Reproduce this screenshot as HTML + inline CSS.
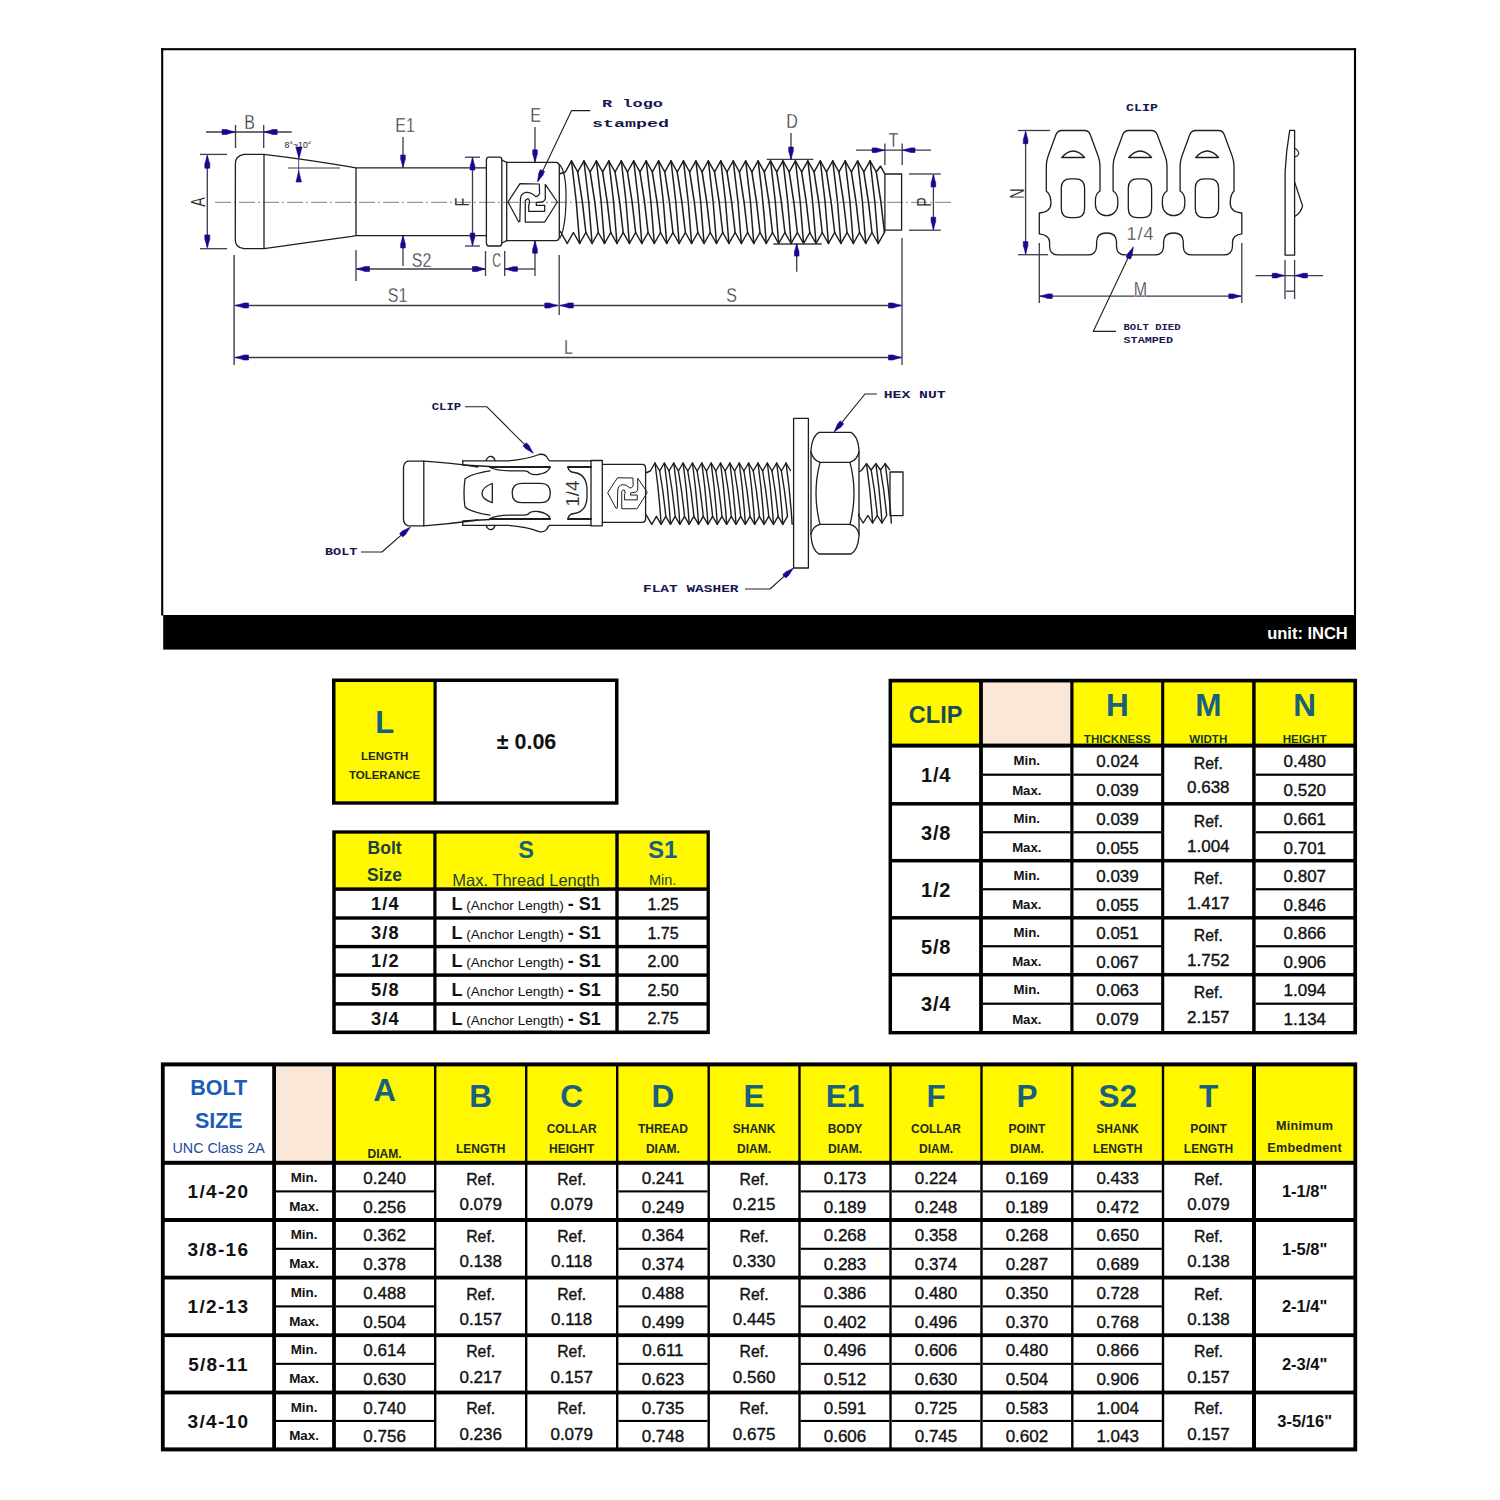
<!DOCTYPE html>
<html><head><meta charset="utf-8"><title>Anchor bolt spec</title>
<style>
html,body{margin:0;padding:0;background:#fff;width:1500px;height:1500px;overflow:hidden}
svg{display:block;font-family:"Liberation Sans",sans-serif}
</style></head><body>
<svg width="1500" height="1500" viewBox="0 0 1500 1500">
<rect x="0" y="0" width="1500" height="1500" fill="#fff"/>
<rect x="161.15" y="48.20" width="2.10" height="567.30" fill="#000"/>
<rect x="161.20" y="48.15" width="1194.90" height="2.10" fill="#000"/>
<rect x="1353.95" y="48.20" width="2.10" height="567.30" fill="#000"/>
<rect x="163.20" y="615.00" width="1192.80" height="34.60" fill="#000"/>
<text x="1347.80" y="638.60" font-family="Liberation Sans" font-size="16.5" font-weight="bold" fill="#fff" text-anchor="end">unit: INCH</text>
<line x1="215.00" y1="202.30" x2="952.00" y2="202.30" stroke="#6b5b5b" stroke-width="0.8" stroke-dasharray="16 3 2 3"/>
<path d="M244,154.4 L264,154.4 Q310,160 352,167.2 Q354.5,167.8 356,167.8 L486.4,167.8" fill="none" stroke="#1e1e1e" stroke-width="1.3" stroke-linejoin="round" stroke-linecap="round"/>
<path d="M244,248.7 L264,248.7 Q310,242 352,236.3 Q354.5,235.7 356,235.7 L486.4,235.7" fill="none" stroke="#1e1e1e" stroke-width="1.3" stroke-linejoin="round" stroke-linecap="round"/>
<path d="M244,154.4 Q239.5,155 237,158 Q235.5,160 235.4,163.5 L235.3,240 Q235.5,243.5 237,245.5 Q239.5,248.2 244,248.7" fill="none" stroke="#1e1e1e" stroke-width="1.3" stroke-linejoin="round" stroke-linecap="round"/>
<line x1="264.00" y1="154.40" x2="264.00" y2="248.70" stroke="#1e1e1e" stroke-width="1.3"/>
<line x1="356.00" y1="167.80" x2="356.00" y2="235.70" stroke="#1e1e1e" stroke-width="1.3"/>
<path d="M489,157.2 L499.5,157.2 Q501.8,157.2 501.8,160 L501.8,243 Q501.8,246 499.5,246 L489,246 Q486.4,246 486.4,243 L486.4,160 Q486.4,157.2 489,157.2 Z" fill="none" stroke="#1e1e1e" stroke-width="1.3" stroke-linejoin="round" stroke-linecap="round"/>
<path d="M501.8,160 L506.7,162.3 M501.8,243 L506.7,240.7" fill="none" stroke="#1e1e1e" stroke-width="1.3" stroke-linejoin="round" stroke-linecap="round"/>
<path d="M506.7,162.3 L555.5,162.3 Q559.3,162.3 559.3,166.5 L559.3,236.5 Q559.3,240.7 555.5,240.7 L506.7,240.7 Z" fill="none" stroke="#1e1e1e" stroke-width="1.3" stroke-linejoin="round" stroke-linecap="round"/>
<path d="M508.00,202.00 L520.00,183.70 L539.30,184.00 L539.60,193.50 Q538.00,196.80 535.80,196.60 Q531.00,191.80 526.00,192.30 Q520.60,193.50 520.40,199.00 L519.80,221.50 L518.60,221.80 Z" fill="none" stroke="#1e1e1e" stroke-width="1.25" stroke-linejoin="round" stroke-linecap="round"/><path d="M525.30,222.00 L525.30,200.60 Q526.50,198.60 528.20,198.80 Q529.80,199.50 529.40,203.50 L528.70,205.00 L528.70,211.30 L544.70,211.30 L544.70,205.30 L536.30,205.30 L536.30,202.70 L543.30,201.60 L545.30,199.30 L545.30,184.30 L557.30,202.00 L544.70,222.00 Z" fill="none" stroke="#1e1e1e" stroke-width="1.25" stroke-linejoin="round" stroke-linecap="round"/>
<path d="M559.30,174.00 L565.28,172.00 L571.50,160.80 L577.72,172.00 L583.94,160.80 L590.16,172.00 L596.38,160.80 L602.60,172.00 L608.82,160.80 L615.04,172.00 L621.26,160.80 L627.48,172.00 L633.70,160.80 L639.92,172.00 L646.14,160.80 L652.36,172.00 L658.58,160.80 L664.80,172.00 L671.02,160.80 L677.24,172.00 L683.46,160.80 L689.68,172.00 L695.90,160.80 L702.12,172.00 L708.34,160.80 L714.56,172.00 L720.78,160.80 L727.00,172.00 L733.22,160.80 L739.44,172.00 L745.66,160.80 L751.88,172.00 L758.10,160.80 L764.32,172.00 L770.54,160.80 L776.76,172.00 L782.98,160.80 L789.20,172.00 L795.42,160.80 L801.64,172.00 L807.86,160.80 L814.08,172.00 L820.30,160.80 L826.52,172.00 L832.74,160.80 L838.96,172.00 L845.18,160.80 L851.40,172.00 L857.62,160.80 L863.84,172.00 L870.06,160.80 L876.28,172.00 L880.50,166.20 L884.90,174.00" fill="none" stroke="#1e1e1e" stroke-width="1.5" stroke-linejoin="round"/><path d="M559.30,230.50 L560.98,232.50 L567.20,243.50 L573.42,232.50 L579.64,243.50 L585.86,232.50 L592.08,243.50 L598.30,232.50 L604.52,243.50 L610.74,232.50 L616.96,243.50 L623.18,232.50 L629.40,243.50 L635.62,232.50 L641.84,243.50 L648.06,232.50 L654.28,243.50 L660.50,232.50 L666.72,243.50 L672.94,232.50 L679.16,243.50 L685.38,232.50 L691.60,243.50 L697.82,232.50 L704.04,243.50 L710.26,232.50 L716.48,243.50 L722.70,232.50 L728.92,243.50 L735.14,232.50 L741.36,243.50 L747.58,232.50 L753.80,243.50 L760.02,232.50 L766.24,243.50 L772.46,232.50 L778.68,243.50 L784.90,232.50 L791.12,243.50 L797.34,232.50 L803.56,243.50 L809.78,232.50 L816.00,243.50 L822.22,232.50 L828.44,243.50 L834.66,232.50 L840.88,243.50 L847.10,232.50 L853.32,243.50 L859.54,232.50 L865.76,243.50 L871.98,232.50 L878.20,243.50 L884.42,232.50 L884.90,230.20" fill="none" stroke="#1e1e1e" stroke-width="1.5" stroke-linejoin="round"/><path d="M571.50,160.80 Q577.07,202.15 579.64,243.50 M577.72,172.00 Q582.99,202.25 585.86,232.50 M583.94,160.80 Q589.51,202.15 592.08,243.50 M590.16,172.00 Q595.43,202.25 598.30,232.50 M596.38,160.80 Q601.95,202.15 604.52,243.50 M602.60,172.00 Q607.87,202.25 610.74,232.50 M608.82,160.80 Q614.39,202.15 616.96,243.50 M615.04,172.00 Q620.31,202.25 623.18,232.50 M621.26,160.80 Q626.83,202.15 629.40,243.50 M627.48,172.00 Q632.75,202.25 635.62,232.50 M633.70,160.80 Q639.27,202.15 641.84,243.50 M639.92,172.00 Q645.19,202.25 648.06,232.50 M646.14,160.80 Q651.71,202.15 654.28,243.50 M652.36,172.00 Q657.63,202.25 660.50,232.50 M658.58,160.80 Q664.15,202.15 666.72,243.50 M664.80,172.00 Q670.07,202.25 672.94,232.50 M671.02,160.80 Q676.59,202.15 679.16,243.50 M677.24,172.00 Q682.51,202.25 685.38,232.50 M683.46,160.80 Q689.03,202.15 691.60,243.50 M689.68,172.00 Q694.95,202.25 697.82,232.50 M695.90,160.80 Q701.47,202.15 704.04,243.50 M702.12,172.00 Q707.39,202.25 710.26,232.50 M708.34,160.80 Q713.91,202.15 716.48,243.50 M714.56,172.00 Q719.83,202.25 722.70,232.50 M720.78,160.80 Q726.35,202.15 728.92,243.50 M727.00,172.00 Q732.27,202.25 735.14,232.50 M733.22,160.80 Q738.79,202.15 741.36,243.50 M739.44,172.00 Q744.71,202.25 747.58,232.50 M745.66,160.80 Q751.23,202.15 753.80,243.50 M751.88,172.00 Q757.15,202.25 760.02,232.50 M758.10,160.80 Q763.67,202.15 766.24,243.50 M764.32,172.00 Q769.59,202.25 772.46,232.50 M770.54,160.80 Q776.11,202.15 778.68,243.50 M776.76,172.00 Q782.03,202.25 784.90,232.50 M782.98,160.80 Q788.55,202.15 791.12,243.50 M789.20,172.00 Q794.47,202.25 797.34,232.50 M795.42,160.80 Q800.99,202.15 803.56,243.50 M801.64,172.00 Q806.91,202.25 809.78,232.50 M807.86,160.80 Q813.43,202.15 816.00,243.50 M814.08,172.00 Q819.35,202.25 822.22,232.50 M820.30,160.80 Q825.87,202.15 828.44,243.50 M826.52,172.00 Q831.79,202.25 834.66,232.50 M832.74,160.80 Q838.31,202.15 840.88,243.50 M838.96,172.00 Q844.23,202.25 847.10,232.50 M845.18,160.80 Q850.75,202.15 853.32,243.50 M851.40,172.00 Q856.67,202.25 859.54,232.50 M857.62,160.80 Q863.19,202.15 865.76,243.50 M863.84,172.00 Q869.11,202.25 871.98,232.50 M870.06,160.80 Q875.63,202.15 878.20,243.50 M876.28,172.00 Q881.55,202.25 884.42,232.50" fill="none" stroke="#1e1e1e" stroke-width="1.5" stroke-linejoin="round" stroke-linecap="round"/>
<path d="M559.5,164.5 Q566.5,172 566,200 Q565.5,228 560,238" fill="none" stroke="#1e1e1e" stroke-width="1.2" stroke-linejoin="round" stroke-linecap="round"/>
<path d="M884.9,174 L901.6,174 L901.6,230.2 L884.9,230.2 Z" fill="none" stroke="#1e1e1e" stroke-width="1.3" stroke-linejoin="round" stroke-linecap="round"/>
<line x1="200.00" y1="154.40" x2="227.00" y2="154.40" stroke="#3a3b4c" stroke-width="1.3"/>
<line x1="200.00" y1="248.70" x2="227.00" y2="248.70" stroke="#3a3b4c" stroke-width="1.3"/>
<line x1="207.30" y1="156.00" x2="207.30" y2="247.00" stroke="#3a3b4c" stroke-width="1.3"/>
<path d="M207.30,155.20 L209.10,161.70 L209.80,163.52 L209.80,168.20 L204.80,168.20 L204.80,163.52 L205.50,161.70 Z" fill="#160a8c" stroke="#160a8c" stroke-width="0.6"/>
<path d="M207.30,247.90 L205.50,241.40 L204.80,239.58 L204.80,234.90 L209.80,234.90 L209.80,239.58 L209.10,241.40 Z" fill="#160a8c" stroke="#160a8c" stroke-width="0.6"/>
<text x="0" y="0" font-family="Liberation Sans" font-size="20" font-weight="normal" fill="#2e2e2e" text-anchor="middle" transform="translate(204.60 202.00) rotate(-90) scale(0.72 1)" stroke="#fff" stroke-width="0.1">A</text>
<line x1="206.00" y1="132.00" x2="291.70" y2="132.00" stroke="#3a3b4c" stroke-width="1.3"/>
<line x1="235.50" y1="125.00" x2="235.50" y2="148.00" stroke="#3a3b4c" stroke-width="1.3"/>
<line x1="263.70" y1="125.00" x2="263.70" y2="148.00" stroke="#3a3b4c" stroke-width="1.3"/>
<path d="M235.00,132.00 L228.50,133.80 L226.68,134.50 L222.00,134.50 L222.00,129.50 L226.68,129.50 L228.50,130.20 Z" fill="#160a8c" stroke="#160a8c" stroke-width="0.6"/>
<path d="M264.20,132.00 L270.70,130.20 L272.52,129.50 L277.20,129.50 L277.20,134.50 L272.52,134.50 L270.70,133.80 Z" fill="#160a8c" stroke="#160a8c" stroke-width="0.6"/>
<text x="0" y="0" font-family="Liberation Sans" font-size="19.5" font-weight="normal" fill="#2e2e2e" text-anchor="middle" transform="translate(249.60 129.20) scale(0.82 1)" stroke="#fff" stroke-width="0.35">B</text>
<text x="0" y="0" font-family="Liberation Sans" font-size="8.8" font-weight="normal" fill="#222" text-anchor="start" transform="translate(284.50 147.50)" stroke="#fff" stroke-width="0">8°~10°</text>
<line x1="288.00" y1="168.00" x2="340.00" y2="168.00" stroke="#3a3b4c" stroke-width="1.0"/>
<line x1="298.70" y1="150.00" x2="298.70" y2="181.00" stroke="#3a3b4c" stroke-width="0.9"/>
<path d="M295.80,147.00 L302.00,147.00 L299.00,158.50 Z" fill="#160a8c" stroke="#160a8c" stroke-width="0.6" stroke-linejoin="round"/>
<path d="M296.00,182.00 L301.50,182.00 L298.70,171.00 Z" fill="#160a8c" stroke="#160a8c" stroke-width="0.6" stroke-linejoin="round"/>
<line x1="234.10" y1="255.00" x2="234.10" y2="365.00" stroke="#3a3b4c" stroke-width="1.4"/>
<line x1="403.00" y1="137.00" x2="403.00" y2="167.00" stroke="#3a3b4c" stroke-width="1.3"/>
<path d="M403.00,167.50 L401.34,161.25 L400.70,159.50 L400.70,155.00 L405.30,155.00 L405.30,159.50 L404.66,161.25 Z" fill="#160a8c" stroke="#160a8c" stroke-width="0.6"/>
<line x1="403.00" y1="236.00" x2="403.00" y2="266.00" stroke="#3a3b4c" stroke-width="1.3"/>
<path d="M403.00,235.50 L404.66,241.75 L405.30,243.50 L405.30,248.00 L400.70,248.00 L400.70,243.50 L401.34,241.75 Z" fill="#160a8c" stroke="#160a8c" stroke-width="0.6"/>
<text x="0" y="0" font-family="Liberation Sans" font-size="19.5" font-weight="normal" fill="#2e2e2e" text-anchor="middle" transform="translate(405.00 132.30) scale(0.82 1)" stroke="#fff" stroke-width="0.35">E1</text>
<line x1="465.00" y1="157.20" x2="480.00" y2="157.20" stroke="#3a3b4c" stroke-width="1.3"/>
<line x1="465.00" y1="246.00" x2="480.00" y2="246.00" stroke="#3a3b4c" stroke-width="1.3"/>
<line x1="472.50" y1="158.00" x2="472.50" y2="245.00" stroke="#3a3b4c" stroke-width="1.3"/>
<path d="M472.50,157.60 L474.16,163.85 L474.80,165.60 L474.80,170.10 L470.20,170.10 L470.20,165.60 L470.84,163.85 Z" fill="#160a8c" stroke="#160a8c" stroke-width="0.6"/>
<path d="M472.50,245.60 L470.84,239.35 L470.20,237.60 L470.20,233.10 L474.80,233.10 L474.80,237.60 L474.16,239.35 Z" fill="#160a8c" stroke="#160a8c" stroke-width="0.6"/>
<text x="0" y="0" font-family="Liberation Sans" font-size="20" font-weight="normal" fill="#2e2e2e" text-anchor="middle" transform="translate(469.00 202.00) rotate(-90) scale(0.72 1)" stroke="#fff" stroke-width="0.1">F</text>
<line x1="356.00" y1="250.00" x2="356.00" y2="281.00" stroke="#3a3b4c" stroke-width="1.3"/>
<line x1="356.50" y1="269.00" x2="485.50" y2="269.00" stroke="#3a3b4c" stroke-width="1.3"/>
<path d="M356.50,269.00 L363.00,267.20 L364.82,266.50 L369.50,266.50 L369.50,271.50 L364.82,271.50 L363.00,270.80 Z" fill="#160a8c" stroke="#160a8c" stroke-width="0.6"/>
<path d="M485.50,269.00 L479.00,270.80 L477.18,271.50 L472.50,271.50 L472.50,266.50 L477.18,266.50 L479.00,267.20 Z" fill="#160a8c" stroke="#160a8c" stroke-width="0.6"/>
<text x="0" y="0" font-family="Liberation Sans" font-size="19.5" font-weight="normal" fill="#2e2e2e" text-anchor="middle" transform="translate(421.50 266.50) scale(0.82 1)" stroke="#fff" stroke-width="0.35">S2</text>
<line x1="485.50" y1="251.00" x2="485.50" y2="276.00" stroke="#3a3b4c" stroke-width="1.3"/>
<line x1="504.70" y1="251.00" x2="504.70" y2="276.00" stroke="#3a3b4c" stroke-width="1.3"/>
<line x1="504.70" y1="269.00" x2="535.00" y2="269.00" stroke="#3a3b4c" stroke-width="1.3"/>
<path d="M505.00,269.00 L511.25,267.34 L513.00,266.70 L517.50,266.70 L517.50,271.30 L513.00,271.30 L511.25,270.66 Z" fill="#160a8c" stroke="#160a8c" stroke-width="0.6"/>
<text x="0" y="0" font-family="Liberation Sans" font-size="19.5" font-weight="normal" fill="#2e2e2e" text-anchor="middle" transform="translate(496.50 266.50) scale(0.62 1)" stroke="#fff" stroke-width="0.35">C</text>
<line x1="535.00" y1="127.00" x2="535.00" y2="162.00" stroke="#3a3b4c" stroke-width="1.3"/>
<path d="M535.00,162.30 L533.34,156.05 L532.70,154.30 L532.70,149.80 L537.30,149.80 L537.30,154.30 L536.66,156.05 Z" fill="#160a8c" stroke="#160a8c" stroke-width="0.6"/>
<line x1="535.00" y1="241.00" x2="535.00" y2="276.00" stroke="#3a3b4c" stroke-width="1.3"/>
<path d="M535.00,240.70 L536.66,246.95 L537.30,248.70 L537.30,253.20 L532.70,253.20 L532.70,248.70 L533.34,246.95 Z" fill="#160a8c" stroke="#160a8c" stroke-width="0.6"/>
<text x="0" y="0" font-family="Liberation Sans" font-size="19.5" font-weight="normal" fill="#2e2e2e" text-anchor="middle" transform="translate(535.50 122.00) scale(0.82 1)" stroke="#fff" stroke-width="0.35">E</text>
<path d="M590.30,110.60 L571.60,110.60 L538.20,180.50" fill="none" stroke="#1e1e1e" stroke-width="1.1" stroke-linejoin="round"/>
<path d="M537.50,182.00 L538.45,175.60 L538.55,173.74 L540.32,169.61 L544.55,171.43 L542.77,175.56 L541.49,176.91 Z" fill="#160a8c" stroke="#160a8c" stroke-width="0.6"/>
<text x="602.00" y="107.00" font-family="Liberation Mono" font-size="11.5" font-weight="bold" fill="#17174f" text-anchor="start" textLength="61.00" lengthAdjust="spacingAndGlyphs">R logo</text>
<text x="592.00" y="127.20" font-family="Liberation Mono" font-size="11.5" font-weight="bold" fill="#17174f" text-anchor="start" textLength="77.00" lengthAdjust="spacingAndGlyphs">stamped</text>
<line x1="766.70" y1="159.30" x2="813.30" y2="159.30" stroke="#3a3b4c" stroke-width="1.3"/>
<line x1="773.30" y1="244.00" x2="821.70" y2="244.00" stroke="#3a3b4c" stroke-width="1.3"/>
<line x1="791.00" y1="133.00" x2="791.00" y2="159.00" stroke="#3a3b4c" stroke-width="1.3"/>
<path d="M791.00,159.50 L789.34,153.25 L788.70,151.50 L788.70,147.00 L793.30,147.00 L793.30,151.50 L792.66,153.25 Z" fill="#160a8c" stroke="#160a8c" stroke-width="0.6"/>
<line x1="796.70" y1="244.00" x2="796.70" y2="271.70" stroke="#3a3b4c" stroke-width="1.3"/>
<path d="M796.70,243.60 L798.36,249.85 L799.00,251.60 L799.00,256.10 L794.40,256.10 L794.40,251.60 L795.04,249.85 Z" fill="#160a8c" stroke="#160a8c" stroke-width="0.6"/>
<text x="0" y="0" font-family="Liberation Sans" font-size="19.5" font-weight="normal" fill="#2e2e2e" text-anchor="middle" transform="translate(792.00 128.30) scale(0.82 1)" stroke="#fff" stroke-width="0.35">D</text>
<line x1="884.90" y1="143.40" x2="884.90" y2="165.00" stroke="#3a3b4c" stroke-width="1.3"/>
<line x1="902.20" y1="143.40" x2="902.20" y2="165.00" stroke="#3a3b4c" stroke-width="1.3"/>
<line x1="856.00" y1="150.20" x2="931.00" y2="150.20" stroke="#3a3b4c" stroke-width="1.3"/>
<path d="M884.60,150.20 L878.35,151.86 L876.60,152.50 L872.10,152.50 L872.10,147.90 L876.60,147.90 L878.35,148.54 Z" fill="#160a8c" stroke="#160a8c" stroke-width="0.6"/>
<path d="M902.50,150.20 L908.75,148.54 L910.50,147.90 L915.00,147.90 L915.00,152.50 L910.50,152.50 L908.75,151.86 Z" fill="#160a8c" stroke="#160a8c" stroke-width="0.6"/>
<text x="0" y="0" font-family="Liberation Sans" font-size="19.5" font-weight="normal" fill="#2e2e2e" text-anchor="middle" transform="translate(893.50 147.40) scale(0.82 1)" stroke="#fff" stroke-width="0.35">T</text>
<line x1="909.00" y1="174.00" x2="940.70" y2="174.00" stroke="#3a3b4c" stroke-width="1.3"/>
<line x1="909.00" y1="230.20" x2="940.70" y2="230.20" stroke="#3a3b4c" stroke-width="1.3"/>
<line x1="933.40" y1="175.00" x2="933.40" y2="229.50" stroke="#3a3b4c" stroke-width="1.3"/>
<path d="M933.40,174.50 L935.06,180.75 L935.70,182.50 L935.70,187.00 L931.10,187.00 L931.10,182.50 L931.74,180.75 Z" fill="#160a8c" stroke="#160a8c" stroke-width="0.6"/>
<path d="M933.40,229.70 L931.74,223.45 L931.10,221.70 L931.10,217.20 L935.70,217.20 L935.70,221.70 L935.06,223.45 Z" fill="#160a8c" stroke="#160a8c" stroke-width="0.6"/>
<text x="0" y="0" font-family="Liberation Sans" font-size="20" font-weight="normal" fill="#2e2e2e" text-anchor="middle" transform="translate(930.50 202.00) rotate(-90) scale(0.72 1)" stroke="#fff" stroke-width="0.1">P</text>
<line x1="902.00" y1="238.00" x2="902.00" y2="365.00" stroke="#3a3b4c" stroke-width="1.3"/>
<line x1="559.20" y1="255.00" x2="559.20" y2="315.00" stroke="#3a3b4c" stroke-width="1.3"/>
<line x1="235.00" y1="305.50" x2="558.30" y2="305.50" stroke="#3a3b4c" stroke-width="1.3"/>
<path d="M235.50,305.50 L242.00,303.70 L243.82,303.00 L248.50,303.00 L248.50,308.00 L243.82,308.00 L242.00,307.30 Z" fill="#160a8c" stroke="#160a8c" stroke-width="0.6"/>
<path d="M557.80,305.50 L551.30,307.30 L549.48,308.00 L544.80,308.00 L544.80,303.00 L549.48,303.00 L551.30,303.70 Z" fill="#160a8c" stroke="#160a8c" stroke-width="0.6"/>
<line x1="560.00" y1="305.50" x2="901.50" y2="305.50" stroke="#3a3b4c" stroke-width="1.3"/>
<path d="M560.30,305.50 L566.80,303.70 L568.62,303.00 L573.30,303.00 L573.30,308.00 L568.62,308.00 L566.80,307.30 Z" fill="#160a8c" stroke="#160a8c" stroke-width="0.6"/>
<path d="M901.50,305.50 L895.00,307.30 L893.18,308.00 L888.50,308.00 L888.50,303.00 L893.18,303.00 L895.00,303.70 Z" fill="#160a8c" stroke="#160a8c" stroke-width="0.6"/>
<text x="0" y="0" font-family="Liberation Sans" font-size="19.5" font-weight="normal" fill="#2e2e2e" text-anchor="middle" transform="translate(397.50 302.40) scale(0.82 1)" stroke="#fff" stroke-width="0.35">S1</text>
<text x="0" y="0" font-family="Liberation Sans" font-size="19.5" font-weight="normal" fill="#2e2e2e" text-anchor="middle" transform="translate(731.50 302.40) scale(0.82 1)" stroke="#fff" stroke-width="0.35">S</text>
<line x1="235.00" y1="357.50" x2="901.50" y2="357.50" stroke="#3a3b4c" stroke-width="1.3"/>
<path d="M235.50,357.50 L242.00,355.70 L243.82,355.00 L248.50,355.00 L248.50,360.00 L243.82,360.00 L242.00,359.30 Z" fill="#160a8c" stroke="#160a8c" stroke-width="0.6"/>
<path d="M901.50,357.50 L895.00,359.30 L893.18,360.00 L888.50,360.00 L888.50,355.00 L893.18,355.00 L895.00,355.70 Z" fill="#160a8c" stroke="#160a8c" stroke-width="0.6"/>
<text x="0" y="0" font-family="Liberation Sans" font-size="19.5" font-weight="normal" fill="#2e2e2e" text-anchor="middle" transform="translate(568.50 354.20) scale(0.82 1)" stroke="#fff" stroke-width="0.35">L</text>
<text x="1126.00" y="111.40" font-family="Liberation Mono" font-size="11.5" font-weight="bold" fill="#17174f" text-anchor="start" textLength="32.00" lengthAdjust="spacingAndGlyphs">CLIP</text>
<path d="M1039.3,233.9 L1039.3,213 Q1051,212 1051,203 Q1051,195 1046.3,191 L1046.3,166 Q1046.4,161 1048,156.5 L1055.8,135 Q1057.5,130.5 1062,130.5 L1084.50,130.5 Q1088.80,130.5 1090.40,135 L1098.30,156.5 Q1099.90,161 1100.00,166 L1100.00,191 Q1095.40,194 1095.40,200 L1095.40,204.5 A11.2,11.2 0 0 0 1117.80,204.5 L1117.80,200 Q1117.80,194 1113.10,191 L1113.10,166 Q1113.20,161 1114.80,156.5 L1122.60,135 Q1124.30,130.5 1128.80,130.5 L1151.50,130.5 Q1155.80,130.5 1157.40,135 L1165.30,156.5 Q1166.90,161 1167.00,166 L1167.00,191 Q1162.40,194 1162.40,200 L1162.40,204.5 A11.2,11.2 0 0 0 1184.80,204.5 L1184.80,200 Q1184.80,194 1180.10,191 L1180.10,166 Q1180.20,161 1181.80,156.5 L1189.60,135 Q1191.30,130.5 1195.80,130.5 L1218.50,130.5 Q1222.80,130.5 1224.40,135 L1232.30,156.5 Q1233.90,161 1234.00,166 L1234.00,191 Q1230.2,195 1230.2,203 Q1230.2,212 1241.8,213 L1241.8,233.9 Q1232.8,235 1232.5,242 L1232.5,246 Q1232.3,254.9 1224,254.9 L1191.5,254.9 Q1183.3,254.9 1183.3,246 L1183.3,241.5 Q1183,233 1173.5,233 Q1163.8,233 1163.6,241.5 L1163.6,246 Q1163.4,254.9 1155,254.9 L1125,254.9 Q1116.5,254.9 1116.5,246 L1116.5,241.5 Q1116.3,233 1106.5,233 Q1096.8,233 1096.6,241.5 L1096.6,246 Q1096.4,254.9 1088,254.9 L1058,254.9 Q1049.6,254.9 1049.6,246 L1049.6,242 Q1049.3,235 1039.3,233.9 Z" fill="none" stroke="#1e1e1e" stroke-width="1.3" stroke-linejoin="round" stroke-linecap="round"/>
<path d="M1061.30,188 Q1061.30,178.8 1070.50,178.8 L1075.40,178.8 Q1084.60,178.8 1084.60,188 L1084.60,208.4 Q1084.60,217.6 1075.40,217.6 L1070.50,217.6 Q1061.30,217.6 1061.30,208.4 Z" fill="none" stroke="#1e1e1e" stroke-width="1.3" stroke-linejoin="round" stroke-linecap="round"/>
<path d="M1061.70,157.5 L1084.60,157.5 Q1073.20,144.5 1061.70,157.5 Z" fill="none" stroke="#1e1e1e" stroke-width="1.3" stroke-linejoin="round" stroke-linecap="round"/>
<path d="M1128.30,188 Q1128.30,178.8 1137.50,178.8 L1142.40,178.8 Q1151.60,178.8 1151.60,188 L1151.60,208.4 Q1151.60,217.6 1142.40,217.6 L1137.50,217.6 Q1128.30,217.6 1128.30,208.4 Z" fill="none" stroke="#1e1e1e" stroke-width="1.3" stroke-linejoin="round" stroke-linecap="round"/>
<path d="M1128.70,157.5 L1151.60,157.5 Q1140.20,144.5 1128.70,157.5 Z" fill="none" stroke="#1e1e1e" stroke-width="1.3" stroke-linejoin="round" stroke-linecap="round"/>
<path d="M1195.30,188 Q1195.30,178.8 1204.50,178.8 L1209.40,178.8 Q1218.60,178.8 1218.60,188 L1218.60,208.4 Q1218.60,217.6 1209.40,217.6 L1204.50,217.6 Q1195.30,217.6 1195.30,208.4 Z" fill="none" stroke="#1e1e1e" stroke-width="1.3" stroke-linejoin="round" stroke-linecap="round"/>
<path d="M1195.70,157.5 L1218.60,157.5 Q1207.20,144.5 1195.70,157.5 Z" fill="none" stroke="#1e1e1e" stroke-width="1.3" stroke-linejoin="round" stroke-linecap="round"/>
<text x="0" y="0" font-family="Liberation Sans" font-size="18" font-weight="normal" fill="#2e2e2e" text-anchor="middle" letter-spacing="1" transform="translate(1140.50 239.50)" stroke="#fff" stroke-width="0.35">1/4</text>
<line x1="1018.00" y1="130.50" x2="1050.00" y2="130.50" stroke="#3a3b4c" stroke-width="1.3"/>
<line x1="1018.00" y1="254.70" x2="1048.00" y2="254.70" stroke="#3a3b4c" stroke-width="1.3"/>
<line x1="1025.60" y1="132.00" x2="1025.60" y2="254.00" stroke="#3a3b4c" stroke-width="1.3"/>
<path d="M1025.60,131.20 L1027.26,137.45 L1027.90,139.20 L1027.90,143.70 L1023.30,143.70 L1023.30,139.20 L1023.94,137.45 Z" fill="#160a8c" stroke="#160a8c" stroke-width="0.6"/>
<path d="M1025.60,254.00 L1023.94,247.75 L1023.30,246.00 L1023.30,241.50 L1027.90,241.50 L1027.90,246.00 L1027.26,247.75 Z" fill="#160a8c" stroke="#160a8c" stroke-width="0.6"/>
<text x="0" y="0" font-family="Liberation Sans" font-size="20" font-weight="normal" fill="#2e2e2e" text-anchor="middle" transform="translate(1023.50 193.60) rotate(-90) scale(0.72 1)" stroke="#fff" stroke-width="0.1">N</text>
<line x1="1039.30" y1="243.00" x2="1039.30" y2="303.00" stroke="#3a3b4c" stroke-width="1.3"/>
<line x1="1241.80" y1="243.00" x2="1241.80" y2="303.00" stroke="#3a3b4c" stroke-width="1.3"/>
<line x1="1040.00" y1="296.20" x2="1241.00" y2="296.20" stroke="#3a3b4c" stroke-width="1.3"/>
<path d="M1039.80,296.20 L1046.05,294.54 L1047.80,293.90 L1052.30,293.90 L1052.30,298.50 L1047.80,298.50 L1046.05,297.86 Z" fill="#160a8c" stroke="#160a8c" stroke-width="0.6"/>
<path d="M1241.30,296.20 L1235.05,297.86 L1233.30,298.50 L1228.80,298.50 L1228.80,293.90 L1233.30,293.90 L1235.05,294.54 Z" fill="#160a8c" stroke="#160a8c" stroke-width="0.6"/>
<text x="0" y="0" font-family="Liberation Sans" font-size="19.5" font-weight="normal" fill="#2e2e2e" text-anchor="middle" transform="translate(1140.50 295.50) scale(0.82 1)" stroke="#fff" stroke-width="0.35">M</text>
<path d="M1116.00,331.40 L1093.20,331.40 L1131.80,250.00" fill="none" stroke="#1e1e1e" stroke-width="1.1" stroke-linejoin="round"/>
<path d="M1133.40,246.80 L1132.35,253.18 L1132.21,255.04 L1130.37,259.14 L1126.17,257.26 L1128.02,253.15 L1129.33,251.82 Z" fill="#160a8c" stroke="#160a8c" stroke-width="0.6"/>
<text x="1123.50" y="330.00" font-family="Liberation Mono" font-size="9.5" font-weight="bold" fill="#17174f" text-anchor="start" textLength="57.00" lengthAdjust="spacingAndGlyphs">BOLT DIED</text>
<text x="1123.50" y="342.90" font-family="Liberation Mono" font-size="9.5" font-weight="bold" fill="#17174f" text-anchor="start" textLength="49.50" lengthAdjust="spacingAndGlyphs">STAMPED</text>
<path d="M1285.1,255.2 L1294.6,255.2 L1294.6,130.3 L1289.7,130.3 Q1286.2,150 1285.1,172 Z" fill="none" stroke="#1e1e1e" stroke-width="1.3" stroke-linejoin="round" stroke-linecap="round"/>
<path d="M1294.6,148 Q1299.5,151 1298.5,154.5 Q1297,157 1294.6,156.5" fill="none" stroke="#1e1e1e" stroke-width="1.1" stroke-linejoin="round" stroke-linecap="round"/>
<path d="M1294.6,182 L1302.6,206 Q1300.5,213.5 1294.6,216.5" fill="none" stroke="#1e1e1e" stroke-width="1.2" stroke-linejoin="round" stroke-linecap="round"/>
<line x1="1285.00" y1="260.00" x2="1285.00" y2="299.00" stroke="#3a3b4c" stroke-width="1.3"/>
<line x1="1294.60" y1="260.00" x2="1294.60" y2="299.00" stroke="#3a3b4c" stroke-width="1.3"/>
<line x1="1285.80" y1="291.20" x2="1294.60" y2="291.20" stroke="#3a3b4c" stroke-width="1.3"/>
<line x1="1255.50" y1="275.60" x2="1323.00" y2="275.60" stroke="#3a3b4c" stroke-width="1.3"/>
<path d="M1284.70,275.60 L1278.45,277.26 L1276.70,277.90 L1272.20,277.90 L1272.20,273.30 L1276.70,273.30 L1278.45,273.94 Z" fill="#160a8c" stroke="#160a8c" stroke-width="0.6"/>
<path d="M1294.90,275.60 L1301.15,273.94 L1302.90,273.30 L1307.40,273.30 L1307.40,277.90 L1302.90,277.90 L1301.15,277.26 Z" fill="#160a8c" stroke="#160a8c" stroke-width="0.6"/>
<path d="M408,461.1 L423.8,461.1 L423.8,525.8 L408,525.8 Q403.5,524 403.5,519 L403.5,468 Q403.5,462.5 408,461.1 Z" fill="none" stroke="#1e1e1e" stroke-width="1.3" stroke-linejoin="round" stroke-linecap="round"/>
<path d="M423.8,461.1 Q450,462.5 478,467 M423.8,525.8 Q450,524 478,520" fill="none" stroke="#1e1e1e" stroke-width="1.3" stroke-linejoin="round" stroke-linecap="round"/>
<path d="M462.8,460.8 L508,460.8 Q527,459.5 539,454.5 Q544,453.5 546.5,456.5 Q548,459.5 549.5,460.8 L591,460.8" fill="none" stroke="#1e1e1e" stroke-width="1.3" stroke-linejoin="round" stroke-linecap="round"/>
<path d="M462.8,525.3 L508,525.3 Q527,526.6 539,531.6 Q544,532.6 546.5,529.6 Q548,526.6 549.5,525.3 L591,525.3" fill="none" stroke="#1e1e1e" stroke-width="1.3" stroke-linejoin="round" stroke-linecap="round"/>
<path d="M486,460.6 Q488,456 491.5,456.5 Q494,457 495,460.6 M486,525.5 Q488,530 491.5,529.5 Q494,529 495,525.5" fill="none" stroke="#1e1e1e" stroke-width="1.3" stroke-linejoin="round" stroke-linecap="round"/>
<path d="M462.8,460.8 L462.8,465 L490,466.5 M462.8,525.3 L462.8,521 L490,519.5" fill="none" stroke="#1e1e1e" stroke-width="1.3" stroke-linejoin="round" stroke-linecap="round"/>
<path d="M490,467 L550,467 M490,519 L550,519" fill="none" stroke="#1e1e1e" stroke-width="2.0" stroke-linejoin="round" stroke-linecap="round"/>
<path d="M568,467 L591,467 M568,519 L591,519" fill="none" stroke="#1e1e1e" stroke-width="2.0" stroke-linejoin="round" stroke-linecap="round"/>
<path d="M490,467.5 Q496,470.5 510,470.8 L525,470.8 Q528,471 530,473.5 Q533,475 538,474.5 Q548,473 550,467.5 M490,518.5 Q496,515.5 510,515.2 L525,515.2 Q528,515 530,512.5 Q533,511 538,511.5 Q548,513 550,518.5" fill="none" stroke="#1e1e1e" stroke-width="1.3" stroke-linejoin="round" stroke-linecap="round"/>
<path d="M490,470.8 Q470,474 465,479 Q463,493 465,507 Q470,512 490,515.2" fill="none" stroke="#1e1e1e" stroke-width="1.3" stroke-linejoin="round" stroke-linecap="round"/>
<path d="M568,467.5 Q569,472 574,472.5 Q586,474 587,488 L587,498 Q586,512 574,513.5 Q569,514 568,518.5" fill="none" stroke="#1e1e1e" stroke-width="1.3" stroke-linejoin="round" stroke-linecap="round"/>
<path d="M492.3,483.5 L492.3,502.7 Q481.5,499 482,493 Q482.5,487 492.3,483.5 Z" fill="none" stroke="#1e1e1e" stroke-width="1.3" stroke-linejoin="round" stroke-linecap="round"/>
<path d="M521.7,483.3 L540.8,483.3 Q550.3,483.3 550.3,493 Q550.3,502.7 540.8,502.7 L521.7,502.7 Q512.2,502.7 512.2,493 Q512.2,483.3 521.7,483.3 Z" fill="none" stroke="#1e1e1e" stroke-width="1.3" stroke-linejoin="round" stroke-linecap="round"/>
<text x="0" y="0" font-family="Liberation Sans" font-size="19" font-weight="normal" fill="#2e2e2e" text-anchor="middle" transform="translate(578.80 493.60) rotate(-90)" stroke="#fff" stroke-width="0.1">1/4</text>
<path d="M591,460.5 L602.3,460.5 L602.3,525.8 L591,525.8 Z" fill="none" stroke="#1e1e1e" stroke-width="1.3" stroke-linejoin="round" stroke-linecap="round"/>
<path d="M602.3,464.3 L643,464.3 Q645.6,465 645.6,468 L645.6,519 Q645.6,522 643,522.3 L602.3,522.3" fill="none" stroke="#1e1e1e" stroke-width="1.3" stroke-linejoin="round" stroke-linecap="round"/>
<path d="M607.90,492.40 L617.50,477.76 L632.94,478.00 L633.18,485.60 Q631.90,488.24 630.14,488.08 Q626.30,484.24 622.30,484.64 Q617.98,485.60 617.82,490.00 L617.34,508.00 L616.38,508.24 Z" fill="none" stroke="#1e1e1e" stroke-width="1.0" stroke-linejoin="round" stroke-linecap="round"/><path d="M621.74,508.40 L621.74,491.28 Q622.70,489.68 624.06,489.84 Q625.34,490.40 625.02,493.60 L624.46,494.80 L624.46,499.84 L637.26,499.84 L637.26,495.04 L630.54,495.04 L630.54,492.96 L636.14,492.08 L637.74,490.24 L637.74,478.24 L647.34,492.40 L637.26,508.40 Z" fill="none" stroke="#1e1e1e" stroke-width="1.0" stroke-linejoin="round" stroke-linecap="round"/>
<path d="M645.60,473.00 L650.32,471.00 L655.00,463.00 L659.68,471.00 L664.36,463.00 L669.04,471.00 L673.72,463.00 L678.40,471.00 L683.08,463.00 L687.76,471.00 L692.44,463.00 L697.12,471.00 L701.80,463.00 L706.48,471.00 L711.16,463.00 L715.84,471.00 L720.52,463.00 L725.20,471.00 L729.88,463.00 L734.56,471.00 L739.24,463.00 L743.92,471.00 L748.60,463.00 L753.28,471.00 L757.96,463.00 L762.64,471.00 L767.32,463.00 L772.00,471.00 L776.68,463.00 L781.36,471.00 L786.04,463.00 L790.72,471.00" fill="none" stroke="#1e1e1e" stroke-width="1.4" stroke-linejoin="round"/><path d="M645.60,514.30 L647.06,516.30 L651.74,524.30 L656.42,516.30 L661.10,524.30 L665.78,516.30 L670.46,524.30 L675.14,516.30 L679.82,524.30 L684.50,516.30 L689.18,524.30 L693.86,516.30 L698.54,524.30 L703.22,516.30 L707.90,524.30 L712.58,516.30 L717.26,524.30 L721.94,516.30 L726.62,524.30 L731.30,516.30 L735.98,524.30 L740.66,516.30 L745.34,524.30 L750.02,516.30 L754.70,524.30 L759.38,516.30 L764.06,524.30 L768.74,516.30 L773.42,524.30 L778.10,516.30 L782.78,524.30 L787.46,516.30" fill="none" stroke="#1e1e1e" stroke-width="1.4" stroke-linejoin="round"/><path d="M655.00,463.00 Q659.25,493.65 661.10,524.30 M659.68,471.00 Q663.69,493.65 665.78,516.30 M664.36,463.00 Q668.61,493.65 670.46,524.30 M669.04,471.00 Q673.05,493.65 675.14,516.30 M673.72,463.00 Q677.97,493.65 679.82,524.30 M678.40,471.00 Q682.41,493.65 684.50,516.30 M683.08,463.00 Q687.33,493.65 689.18,524.30 M687.76,471.00 Q691.77,493.65 693.86,516.30 M692.44,463.00 Q696.69,493.65 698.54,524.30 M697.12,471.00 Q701.13,493.65 703.22,516.30 M701.80,463.00 Q706.05,493.65 707.90,524.30 M706.48,471.00 Q710.49,493.65 712.58,516.30 M711.16,463.00 Q715.41,493.65 717.26,524.30 M715.84,471.00 Q719.85,493.65 721.94,516.30 M720.52,463.00 Q724.77,493.65 726.62,524.30 M725.20,471.00 Q729.21,493.65 731.30,516.30 M729.88,463.00 Q734.13,493.65 735.98,524.30 M734.56,471.00 Q738.57,493.65 740.66,516.30 M739.24,463.00 Q743.49,493.65 745.34,524.30 M743.92,471.00 Q747.93,493.65 750.02,516.30 M748.60,463.00 Q752.85,493.65 754.70,524.30 M753.28,471.00 Q757.29,493.65 759.38,516.30 M757.96,463.00 Q762.21,493.65 764.06,524.30 M762.64,471.00 Q766.65,493.65 768.74,516.30 M767.32,463.00 Q771.57,493.65 773.42,524.30 M772.00,471.00 Q776.01,493.65 778.10,516.30 M776.68,463.00 Q780.93,493.65 782.78,524.30 M781.36,471.00 Q785.37,493.65 787.46,516.30 M786.04,463.00 Q790.29,493.65 792.14,524.30" fill="none" stroke="#1e1e1e" stroke-width="1.4" stroke-linejoin="round" stroke-linecap="round"/>
<path d="M793.6,418.4 L808.4,418.4 L808.4,568 L793.6,568 Z" fill="none" stroke="#1e1e1e" stroke-width="1.3" stroke-linejoin="round" stroke-linecap="round"/>
<path d="M819,432.4 L851,432.4 Q858,436 859,450 L859,536 Q858,550 851,554 L819,554 Q812,550 811,536 L811,450 Q812,436 819,432.4 Z" fill="none" stroke="#1e1e1e" stroke-width="1.3" stroke-linejoin="round" stroke-linecap="round"/>
<path d="M811,452 Q813,460 820,462.4 L850,462.4 Q857,460 859,452 M811,534 Q813,526 820,524.4 L850,524.4 Q857,526 859,534" fill="none" stroke="#1e1e1e" stroke-width="1.3" stroke-linejoin="round" stroke-linecap="round"/>
<path d="M820,462.4 Q812,493 820,524.4 M850,462.4 Q858,493 850,524.4" fill="none" stroke="#1e1e1e" stroke-width="1.3" stroke-linejoin="round" stroke-linecap="round"/>
<path d="M859.00,472.00 L861.82,470.00 L866.50,463.60 L871.18,470.00 L875.86,463.60 L880.54,470.00 L885.22,463.60 L889.90,470.00" fill="none" stroke="#1e1e1e" stroke-width="1.4" stroke-linejoin="round"/><path d="M859.00,513.50 L858.52,515.50 L863.20,523.00 L867.88,515.50 L872.56,523.00 L877.24,515.50 L881.92,523.00 L886.60,515.50" fill="none" stroke="#1e1e1e" stroke-width="1.4" stroke-linejoin="round"/><path d="M866.50,463.60 Q870.75,493.30 872.60,523.00 M871.18,470.00 Q875.19,492.75 877.28,515.50 M875.86,463.60 Q880.11,493.30 881.96,523.00 M880.54,470.00 Q884.55,492.75 886.64,515.50 M885.22,463.60 Q889.47,493.30 891.32,523.00" fill="none" stroke="#1e1e1e" stroke-width="1.4" stroke-linejoin="round" stroke-linecap="round"/>
<path d="M890,472 L903,472 L903,515.6 L890,515.6 Z" fill="none" stroke="#1e1e1e" stroke-width="1.3" stroke-linejoin="round" stroke-linecap="round"/>
<path d="M465.00,406.70 L486.70,406.70 L531.00,450.80" fill="none" stroke="#1e1e1e" stroke-width="1.1" stroke-linejoin="round"/>
<path d="M533.30,453.30 L527.79,449.92 L526.12,449.09 L523.01,445.83 L526.34,442.66 L529.45,445.92 L530.19,447.63 Z" fill="#160a8c" stroke="#160a8c" stroke-width="0.6"/>
<text x="431.70" y="409.90" font-family="Liberation Mono" font-size="11.5" font-weight="bold" fill="#17174f" text-anchor="start" textLength="29.50" lengthAdjust="spacingAndGlyphs">CLIP</text>
<path d="M361.00,552.00 L382.00,552.00 L408.00,529.20" fill="none" stroke="#1e1e1e" stroke-width="1.1" stroke-linejoin="round"/>
<path d="M410.50,527.00 L406.90,532.37 L406.01,534.01 L402.64,536.98 L399.60,533.53 L402.97,530.56 L404.71,529.89 Z" fill="#160a8c" stroke="#160a8c" stroke-width="0.6"/>
<text x="325.00" y="554.80" font-family="Liberation Mono" font-size="11.5" font-weight="bold" fill="#17174f" text-anchor="start" textLength="32.30" lengthAdjust="spacingAndGlyphs">BOLT</text>
<path d="M745.00,589.00 L770.00,589.00 L791.00,570.20" fill="none" stroke="#1e1e1e" stroke-width="1.1" stroke-linejoin="round"/>
<path d="M793.50,568.00 L789.96,573.41 L789.09,575.06 L785.75,578.07 L782.67,574.65 L786.02,571.64 L787.75,570.95 Z" fill="#160a8c" stroke="#160a8c" stroke-width="0.6"/>
<text x="643.00" y="591.60" font-family="Liberation Mono" font-size="11.5" font-weight="bold" fill="#17174f" text-anchor="start" textLength="95.50" lengthAdjust="spacingAndGlyphs">FLAT WASHER</text>
<path d="M877.00,394.00 L865.00,394.00 L836.20,429.30" fill="none" stroke="#1e1e1e" stroke-width="1.1" stroke-linejoin="round"/>
<path d="M834.00,432.00 L836.68,426.12 L837.29,424.36 L840.15,420.88 L843.70,423.79 L840.85,427.27 L839.24,428.22 Z" fill="#160a8c" stroke="#160a8c" stroke-width="0.6"/>
<text x="883.80" y="397.70" font-family="Liberation Mono" font-size="11.5" font-weight="bold" fill="#17174f" text-anchor="start" textLength="61.80" lengthAdjust="spacingAndGlyphs">HEX NUT</text>
<rect x="332.00" y="678.50" width="286.50" height="126.20" fill="#000"/>
<rect x="335.50" y="682.00" width="98.00" height="119.30" fill="#FFF800"/>
<rect x="436.70" y="682.00" width="178.30" height="119.30" fill="#fff"/>
<text x="384.60" y="732.70" font-family="Liberation Sans" font-size="31" font-weight="bold" fill="#17607F" text-anchor="middle">L</text>
<text x="384.60" y="760.00" font-family="Liberation Sans" font-size="11.5" font-weight="bold" fill="#1e2a20" text-anchor="middle">LENGTH</text>
<text x="384.60" y="779.30" font-family="Liberation Sans" font-size="11.5" font-weight="bold" fill="#1e2a20" text-anchor="middle">TOLERANCE</text>
<text x="526.50" y="748.70" font-family="Liberation Sans" font-size="21.5" font-weight="bold" fill="#111" text-anchor="middle">± 0.06</text>
<rect x="332.25" y="830.35" width="377.60" height="203.75" fill="#000"/>
<rect x="335.75" y="833.65" width="97.55" height="53.70" fill="#FFF800"/>
<rect x="436.50" y="833.65" width="178.80" height="53.70" fill="#FFF800"/>
<rect x="618.70" y="833.65" width="87.85" height="53.70" fill="#FFF800"/>
<rect x="335.75" y="890.85" width="97.55" height="25.45" fill="#fff"/>
<rect x="436.50" y="890.85" width="178.80" height="25.45" fill="#fff"/>
<rect x="618.70" y="890.85" width="87.85" height="25.45" fill="#fff"/>
<rect x="335.75" y="919.70" width="97.55" height="25.20" fill="#fff"/>
<rect x="436.50" y="919.70" width="178.80" height="25.20" fill="#fff"/>
<rect x="618.70" y="919.70" width="87.85" height="25.20" fill="#fff"/>
<rect x="335.75" y="948.30" width="97.55" height="25.05" fill="#fff"/>
<rect x="436.50" y="948.30" width="178.80" height="25.05" fill="#fff"/>
<rect x="618.70" y="948.30" width="87.85" height="25.05" fill="#fff"/>
<rect x="335.75" y="976.85" width="97.55" height="25.30" fill="#fff"/>
<rect x="436.50" y="976.85" width="178.80" height="25.30" fill="#fff"/>
<rect x="618.70" y="976.85" width="87.85" height="25.30" fill="#fff"/>
<rect x="335.75" y="1005.65" width="97.55" height="24.85" fill="#fff"/>
<rect x="436.50" y="1005.65" width="178.80" height="24.85" fill="#fff"/>
<rect x="618.70" y="1005.65" width="87.85" height="24.85" fill="#fff"/>
<text x="384.60" y="853.50" font-family="Liberation Sans" font-size="17.5" font-weight="bold" fill="#1c3f3f" text-anchor="middle">Bolt</text>
<text x="384.60" y="880.70" font-family="Liberation Sans" font-size="17.5" font-weight="bold" fill="#1c3f3f" text-anchor="middle">Size</text>
<text x="526.00" y="858.00" font-family="Liberation Sans" font-size="23.5" font-weight="bold" fill="#17607F" text-anchor="middle">S</text>
<text x="526.00" y="885.50" font-family="Liberation Sans" font-size="16.5" font-weight="normal" fill="#1c3f3f" text-anchor="middle">Max. Thread Length</text>
<text x="662.60" y="857.50" font-family="Liberation Sans" font-size="24" font-weight="bold" fill="#17607F" text-anchor="middle">S1</text>
<text x="662.60" y="884.60" font-family="Liberation Sans" font-size="14.5" font-weight="normal" fill="#1c3f3f" text-anchor="middle">Min.</text>
<text x="385.50" y="910.18" font-family="Liberation Sans" font-size="18.2" font-weight="bold" fill="#111" text-anchor="middle" letter-spacing="1.2">1/4</text>
<text x="451.5" y="910.15" font-family="Liberation Sans" fill="#111"><tspan font-size="18" font-weight="bold">L</tspan><tspan font-size="13.6"> (Anchor Length)</tspan><tspan font-size="18" font-weight="bold" dx="4">- S1</tspan></text>
<text x="663.00" y="909.88" font-family="Liberation Sans" font-size="16" font-weight="normal" fill="#111" text-anchor="middle" stroke="#111" stroke-width="0.35">1.25</text>
<text x="385.50" y="938.93" font-family="Liberation Sans" font-size="18.2" font-weight="bold" fill="#111" text-anchor="middle" letter-spacing="1.2">3/8</text>
<text x="451.5" y="938.90" font-family="Liberation Sans" fill="#111"><tspan font-size="18" font-weight="bold">L</tspan><tspan font-size="13.6"> (Anchor Length)</tspan><tspan font-size="18" font-weight="bold" dx="4">- S1</tspan></text>
<text x="663.00" y="938.63" font-family="Liberation Sans" font-size="16" font-weight="normal" fill="#111" text-anchor="middle" stroke="#111" stroke-width="0.35">1.75</text>
<text x="385.50" y="967.48" font-family="Liberation Sans" font-size="18.2" font-weight="bold" fill="#111" text-anchor="middle" letter-spacing="1.2">1/2</text>
<text x="451.5" y="967.45" font-family="Liberation Sans" fill="#111"><tspan font-size="18" font-weight="bold">L</tspan><tspan font-size="13.6"> (Anchor Length)</tspan><tspan font-size="18" font-weight="bold" dx="4">- S1</tspan></text>
<text x="663.00" y="967.18" font-family="Liberation Sans" font-size="16" font-weight="normal" fill="#111" text-anchor="middle" stroke="#111" stroke-width="0.35">2.00</text>
<text x="385.50" y="996.13" font-family="Liberation Sans" font-size="18.2" font-weight="bold" fill="#111" text-anchor="middle" letter-spacing="1.2">5/8</text>
<text x="451.5" y="996.10" font-family="Liberation Sans" fill="#111"><tspan font-size="18" font-weight="bold">L</tspan><tspan font-size="13.6"> (Anchor Length)</tspan><tspan font-size="18" font-weight="bold" dx="4">- S1</tspan></text>
<text x="663.00" y="995.83" font-family="Liberation Sans" font-size="16" font-weight="normal" fill="#111" text-anchor="middle" stroke="#111" stroke-width="0.35">2.50</text>
<text x="385.50" y="1024.73" font-family="Liberation Sans" font-size="18.2" font-weight="bold" fill="#111" text-anchor="middle" letter-spacing="1.2">3/4</text>
<text x="451.5" y="1024.70" font-family="Liberation Sans" fill="#111"><tspan font-size="18" font-weight="bold">L</tspan><tspan font-size="13.6"> (Anchor Length)</tspan><tspan font-size="18" font-weight="bold" dx="4">- S1</tspan></text>
<text x="663.00" y="1024.43" font-family="Liberation Sans" font-size="16" font-weight="normal" fill="#111" text-anchor="middle" stroke="#111" stroke-width="0.35">2.75</text>
<rect x="888.55" y="678.75" width="468.50" height="355.65" fill="#000"/>
<rect x="892.05" y="682.45" width="87.05" height="61.15" fill="#FFF800"/>
<rect x="982.90" y="682.45" width="87.40" height="61.15" fill="#FBE7D8"/>
<rect x="1073.50" y="682.45" width="87.65" height="61.15" fill="#FFF800"/>
<rect x="1164.25" y="682.45" width="87.90" height="61.15" fill="#FFF800"/>
<rect x="1255.65" y="682.45" width="97.70" height="61.15" fill="#FFF800"/>
<rect x="892.05" y="747.60" width="87.05" height="54.45" fill="#fff"/>
<rect x="982.90" y="747.60" width="87.40" height="54.45" fill="#fff"/>
<rect x="1073.50" y="747.60" width="87.65" height="54.45" fill="#fff"/>
<rect x="1164.25" y="747.60" width="87.90" height="54.45" fill="#fff"/>
<rect x="1255.65" y="747.60" width="97.70" height="54.45" fill="#fff"/>
<rect x="892.05" y="805.55" width="87.05" height="53.40" fill="#fff"/>
<rect x="982.90" y="805.55" width="87.40" height="53.40" fill="#fff"/>
<rect x="1073.50" y="805.55" width="87.65" height="53.40" fill="#fff"/>
<rect x="1164.25" y="805.55" width="87.90" height="53.40" fill="#fff"/>
<rect x="1255.65" y="805.55" width="97.70" height="53.40" fill="#fff"/>
<rect x="892.05" y="862.45" width="87.05" height="53.60" fill="#fff"/>
<rect x="982.90" y="862.45" width="87.40" height="53.60" fill="#fff"/>
<rect x="1073.50" y="862.45" width="87.65" height="53.60" fill="#fff"/>
<rect x="1164.25" y="862.45" width="87.90" height="53.60" fill="#fff"/>
<rect x="1255.65" y="862.45" width="97.70" height="53.60" fill="#fff"/>
<rect x="892.05" y="919.55" width="87.05" height="53.40" fill="#fff"/>
<rect x="982.90" y="919.55" width="87.40" height="53.40" fill="#fff"/>
<rect x="1073.50" y="919.55" width="87.65" height="53.40" fill="#fff"/>
<rect x="1164.25" y="919.55" width="87.90" height="53.40" fill="#fff"/>
<rect x="1255.65" y="919.55" width="97.70" height="53.40" fill="#fff"/>
<rect x="892.05" y="976.45" width="87.05" height="54.55" fill="#fff"/>
<rect x="982.90" y="976.45" width="87.40" height="54.55" fill="#fff"/>
<rect x="1073.50" y="976.45" width="87.65" height="54.55" fill="#fff"/>
<rect x="1164.25" y="976.45" width="87.90" height="54.55" fill="#fff"/>
<rect x="1255.65" y="976.45" width="97.70" height="54.55" fill="#fff"/>
<rect x="982.90" y="773.60" width="87.40" height="2.20" fill="#000"/>
<rect x="1073.50" y="773.60" width="87.65" height="2.20" fill="#000"/>
<rect x="1255.65" y="773.60" width="97.70" height="2.20" fill="#000"/>
<rect x="982.90" y="831.15" width="87.40" height="2.20" fill="#000"/>
<rect x="1073.50" y="831.15" width="87.65" height="2.20" fill="#000"/>
<rect x="1255.65" y="831.15" width="97.70" height="2.20" fill="#000"/>
<rect x="982.90" y="888.15" width="87.40" height="2.20" fill="#000"/>
<rect x="1073.50" y="888.15" width="87.65" height="2.20" fill="#000"/>
<rect x="1255.65" y="888.15" width="97.70" height="2.20" fill="#000"/>
<rect x="982.90" y="945.15" width="87.40" height="2.20" fill="#000"/>
<rect x="1073.50" y="945.15" width="87.65" height="2.20" fill="#000"/>
<rect x="1255.65" y="945.15" width="97.70" height="2.20" fill="#000"/>
<rect x="982.90" y="1002.60" width="87.40" height="2.20" fill="#000"/>
<rect x="1073.50" y="1002.60" width="87.65" height="2.20" fill="#000"/>
<rect x="1255.65" y="1002.60" width="97.70" height="2.20" fill="#000"/>
<text x="935.60" y="722.80" font-family="Liberation Sans" font-size="23.5" font-weight="bold" fill="#1a4a5a" text-anchor="middle">CLIP</text>
<text x="1117.30" y="716.00" font-family="Liberation Sans" font-size="31.5" font-weight="bold" fill="#17607F" text-anchor="middle">H</text>
<text x="1117.30" y="742.60" font-family="Liberation Sans" font-size="11.6" font-weight="bold" fill="#143a2a" text-anchor="middle">THICKNESS</text>
<text x="1208.30" y="716.00" font-family="Liberation Sans" font-size="31.5" font-weight="bold" fill="#17607F" text-anchor="middle">M</text>
<text x="1208.30" y="742.60" font-family="Liberation Sans" font-size="11.6" font-weight="bold" fill="#143a2a" text-anchor="middle">WIDTH</text>
<text x="1304.60" y="716.00" font-family="Liberation Sans" font-size="31.5" font-weight="bold" fill="#17607F" text-anchor="middle">N</text>
<text x="1304.60" y="742.60" font-family="Liberation Sans" font-size="11.6" font-weight="bold" fill="#143a2a" text-anchor="middle">HEIGHT</text>
<text x="936.20" y="781.99" font-family="Liberation Sans" font-size="20" font-weight="bold" fill="#111" text-anchor="middle" letter-spacing="0.8">1/4</text>
<text x="1026.80" y="764.96" font-family="Liberation Sans" font-size="13.2" font-weight="bold" fill="#111" text-anchor="middle">Min.</text>
<text x="1026.80" y="794.66" font-family="Liberation Sans" font-size="13.2" font-weight="bold" fill="#111" text-anchor="middle">Max.</text>
<text x="1117.50" y="766.85" font-family="Liberation Sans" font-size="17" font-weight="normal" fill="#111" text-anchor="middle" stroke="#111" stroke-width="0.35">0.024</text>
<text x="1117.50" y="796.45" font-family="Liberation Sans" font-size="17" font-weight="normal" fill="#111" text-anchor="middle" stroke="#111" stroke-width="0.35">0.039</text>
<text x="1208.30" y="768.56" font-family="Liberation Sans" font-size="15.8" font-weight="normal" fill="#111" text-anchor="middle" stroke="#111" stroke-width="0.35">Ref.</text>
<text x="1208.30" y="793.40" font-family="Liberation Sans" font-size="17" font-weight="normal" fill="#111" text-anchor="middle" stroke="#111" stroke-width="0.35">0.638</text>
<text x="1304.80" y="766.85" font-family="Liberation Sans" font-size="17" font-weight="normal" fill="#111" text-anchor="middle" stroke="#111" stroke-width="0.35">0.480</text>
<text x="1304.80" y="796.45" font-family="Liberation Sans" font-size="17" font-weight="normal" fill="#111" text-anchor="middle" stroke="#111" stroke-width="0.35">0.520</text>
<text x="936.20" y="839.54" font-family="Liberation Sans" font-size="20" font-weight="bold" fill="#111" text-anchor="middle" letter-spacing="0.8">3/8</text>
<text x="1026.80" y="822.84" font-family="Liberation Sans" font-size="13.2" font-weight="bold" fill="#111" text-anchor="middle">Min.</text>
<text x="1026.80" y="851.89" font-family="Liberation Sans" font-size="13.2" font-weight="bold" fill="#111" text-anchor="middle">Max.</text>
<text x="1117.50" y="824.72" font-family="Liberation Sans" font-size="17" font-weight="normal" fill="#111" text-anchor="middle" stroke="#111" stroke-width="0.35">0.039</text>
<text x="1117.50" y="853.67" font-family="Liberation Sans" font-size="17" font-weight="normal" fill="#111" text-anchor="middle" stroke="#111" stroke-width="0.35">0.055</text>
<text x="1208.30" y="826.76" font-family="Liberation Sans" font-size="15.8" font-weight="normal" fill="#111" text-anchor="middle" stroke="#111" stroke-width="0.35">Ref.</text>
<text x="1208.30" y="851.60" font-family="Liberation Sans" font-size="17" font-weight="normal" fill="#111" text-anchor="middle" stroke="#111" stroke-width="0.35">1.004</text>
<text x="1304.80" y="824.72" font-family="Liberation Sans" font-size="17" font-weight="normal" fill="#111" text-anchor="middle" stroke="#111" stroke-width="0.35">0.661</text>
<text x="1304.80" y="853.67" font-family="Liberation Sans" font-size="17" font-weight="normal" fill="#111" text-anchor="middle" stroke="#111" stroke-width="0.35">0.701</text>
<text x="936.20" y="896.54" font-family="Liberation Sans" font-size="20" font-weight="bold" fill="#111" text-anchor="middle" letter-spacing="0.8">1/2</text>
<text x="1026.80" y="879.79" font-family="Liberation Sans" font-size="13.2" font-weight="bold" fill="#111" text-anchor="middle">Min.</text>
<text x="1026.80" y="908.94" font-family="Liberation Sans" font-size="13.2" font-weight="bold" fill="#111" text-anchor="middle">Max.</text>
<text x="1117.50" y="881.67" font-family="Liberation Sans" font-size="17" font-weight="normal" fill="#111" text-anchor="middle" stroke="#111" stroke-width="0.35">0.039</text>
<text x="1117.50" y="910.72" font-family="Liberation Sans" font-size="17" font-weight="normal" fill="#111" text-anchor="middle" stroke="#111" stroke-width="0.35">0.055</text>
<text x="1208.30" y="883.66" font-family="Liberation Sans" font-size="15.8" font-weight="normal" fill="#111" text-anchor="middle" stroke="#111" stroke-width="0.35">Ref.</text>
<text x="1208.30" y="908.50" font-family="Liberation Sans" font-size="17" font-weight="normal" fill="#111" text-anchor="middle" stroke="#111" stroke-width="0.35">1.417</text>
<text x="1304.80" y="881.67" font-family="Liberation Sans" font-size="17" font-weight="normal" fill="#111" text-anchor="middle" stroke="#111" stroke-width="0.35">0.807</text>
<text x="1304.80" y="910.72" font-family="Liberation Sans" font-size="17" font-weight="normal" fill="#111" text-anchor="middle" stroke="#111" stroke-width="0.35">0.846</text>
<text x="936.20" y="953.54" font-family="Liberation Sans" font-size="20" font-weight="bold" fill="#111" text-anchor="middle" letter-spacing="0.8">5/8</text>
<text x="1026.80" y="936.84" font-family="Liberation Sans" font-size="13.2" font-weight="bold" fill="#111" text-anchor="middle">Min.</text>
<text x="1026.80" y="965.89" font-family="Liberation Sans" font-size="13.2" font-weight="bold" fill="#111" text-anchor="middle">Max.</text>
<text x="1117.50" y="938.72" font-family="Liberation Sans" font-size="17" font-weight="normal" fill="#111" text-anchor="middle" stroke="#111" stroke-width="0.35">0.051</text>
<text x="1117.50" y="967.67" font-family="Liberation Sans" font-size="17" font-weight="normal" fill="#111" text-anchor="middle" stroke="#111" stroke-width="0.35">0.067</text>
<text x="1208.30" y="940.76" font-family="Liberation Sans" font-size="15.8" font-weight="normal" fill="#111" text-anchor="middle" stroke="#111" stroke-width="0.35">Ref.</text>
<text x="1208.30" y="965.60" font-family="Liberation Sans" font-size="17" font-weight="normal" fill="#111" text-anchor="middle" stroke="#111" stroke-width="0.35">1.752</text>
<text x="1304.80" y="938.72" font-family="Liberation Sans" font-size="17" font-weight="normal" fill="#111" text-anchor="middle" stroke="#111" stroke-width="0.35">0.866</text>
<text x="1304.80" y="967.67" font-family="Liberation Sans" font-size="17" font-weight="normal" fill="#111" text-anchor="middle" stroke="#111" stroke-width="0.35">0.906</text>
<text x="936.20" y="1010.99" font-family="Liberation Sans" font-size="20" font-weight="bold" fill="#111" text-anchor="middle" letter-spacing="0.8">3/4</text>
<text x="1026.80" y="994.01" font-family="Liberation Sans" font-size="13.2" font-weight="bold" fill="#111" text-anchor="middle">Min.</text>
<text x="1026.80" y="1023.61" font-family="Liberation Sans" font-size="13.2" font-weight="bold" fill="#111" text-anchor="middle">Max.</text>
<text x="1117.50" y="995.90" font-family="Liberation Sans" font-size="17" font-weight="normal" fill="#111" text-anchor="middle" stroke="#111" stroke-width="0.35">0.063</text>
<text x="1117.50" y="1025.40" font-family="Liberation Sans" font-size="17" font-weight="normal" fill="#111" text-anchor="middle" stroke="#111" stroke-width="0.35">0.079</text>
<text x="1208.30" y="997.66" font-family="Liberation Sans" font-size="15.8" font-weight="normal" fill="#111" text-anchor="middle" stroke="#111" stroke-width="0.35">Ref.</text>
<text x="1208.30" y="1022.50" font-family="Liberation Sans" font-size="17" font-weight="normal" fill="#111" text-anchor="middle" stroke="#111" stroke-width="0.35">2.157</text>
<text x="1304.80" y="995.90" font-family="Liberation Sans" font-size="17" font-weight="normal" fill="#111" text-anchor="middle" stroke="#111" stroke-width="0.35">1.094</text>
<text x="1304.80" y="1025.40" font-family="Liberation Sans" font-size="17" font-weight="normal" fill="#111" text-anchor="middle" stroke="#111" stroke-width="0.35">1.134</text>
<rect x="160.90" y="1062.40" width="1196.30" height="389.00" fill="#000"/>
<rect x="164.70" y="1066.40" width="107.50" height="94.40" fill="#fff"/>
<rect x="276.00" y="1066.40" width="56.10" height="94.40" fill="#FBE7D8"/>
<rect x="335.90" y="1066.40" width="98.10" height="94.40" fill="#FFF800"/>
<rect x="436.40" y="1066.40" width="88.60" height="94.40" fill="#FFF800"/>
<rect x="527.40" y="1066.40" width="88.60" height="94.40" fill="#FFF800"/>
<rect x="618.40" y="1066.40" width="89.10" height="94.40" fill="#FFF800"/>
<rect x="709.90" y="1066.40" width="88.40" height="94.40" fill="#FFF800"/>
<rect x="800.70" y="1066.40" width="88.60" height="94.40" fill="#FFF800"/>
<rect x="891.70" y="1066.40" width="88.60" height="94.40" fill="#FFF800"/>
<rect x="982.70" y="1066.40" width="88.40" height="94.40" fill="#FFF800"/>
<rect x="1073.50" y="1066.40" width="88.30" height="94.40" fill="#FFF800"/>
<rect x="1164.20" y="1066.40" width="87.80" height="94.40" fill="#FFF800"/>
<rect x="1256.00" y="1066.40" width="97.40" height="94.40" fill="#FFF800"/>
<rect x="164.70" y="1164.80" width="107.50" height="53.20" fill="#fff"/>
<rect x="276.00" y="1164.80" width="56.10" height="53.20" fill="#fff"/>
<rect x="335.90" y="1164.80" width="98.10" height="53.20" fill="#fff"/>
<rect x="436.40" y="1164.80" width="88.60" height="53.20" fill="#fff"/>
<rect x="527.40" y="1164.80" width="88.60" height="53.20" fill="#fff"/>
<rect x="618.40" y="1164.80" width="89.10" height="53.20" fill="#fff"/>
<rect x="709.90" y="1164.80" width="88.40" height="53.20" fill="#fff"/>
<rect x="800.70" y="1164.80" width="88.60" height="53.20" fill="#fff"/>
<rect x="891.70" y="1164.80" width="88.60" height="53.20" fill="#fff"/>
<rect x="982.70" y="1164.80" width="88.40" height="53.20" fill="#fff"/>
<rect x="1073.50" y="1164.80" width="88.30" height="53.20" fill="#fff"/>
<rect x="1164.20" y="1164.80" width="87.80" height="53.20" fill="#fff"/>
<rect x="1256.00" y="1164.80" width="97.40" height="53.20" fill="#fff"/>
<rect x="164.70" y="1222.00" width="107.50" height="53.70" fill="#fff"/>
<rect x="276.00" y="1222.00" width="56.10" height="53.70" fill="#fff"/>
<rect x="335.90" y="1222.00" width="98.10" height="53.70" fill="#fff"/>
<rect x="436.40" y="1222.00" width="88.60" height="53.70" fill="#fff"/>
<rect x="527.40" y="1222.00" width="88.60" height="53.70" fill="#fff"/>
<rect x="618.40" y="1222.00" width="89.10" height="53.70" fill="#fff"/>
<rect x="709.90" y="1222.00" width="88.40" height="53.70" fill="#fff"/>
<rect x="800.70" y="1222.00" width="88.60" height="53.70" fill="#fff"/>
<rect x="891.70" y="1222.00" width="88.60" height="53.70" fill="#fff"/>
<rect x="982.70" y="1222.00" width="88.40" height="53.70" fill="#fff"/>
<rect x="1073.50" y="1222.00" width="88.30" height="53.70" fill="#fff"/>
<rect x="1164.20" y="1222.00" width="87.80" height="53.70" fill="#fff"/>
<rect x="1256.00" y="1222.00" width="97.40" height="53.70" fill="#fff"/>
<rect x="164.70" y="1279.50" width="107.50" height="53.80" fill="#fff"/>
<rect x="276.00" y="1279.50" width="56.10" height="53.80" fill="#fff"/>
<rect x="335.90" y="1279.50" width="98.10" height="53.80" fill="#fff"/>
<rect x="436.40" y="1279.50" width="88.60" height="53.80" fill="#fff"/>
<rect x="527.40" y="1279.50" width="88.60" height="53.80" fill="#fff"/>
<rect x="618.40" y="1279.50" width="89.10" height="53.80" fill="#fff"/>
<rect x="709.90" y="1279.50" width="88.40" height="53.80" fill="#fff"/>
<rect x="800.70" y="1279.50" width="88.60" height="53.80" fill="#fff"/>
<rect x="891.70" y="1279.50" width="88.60" height="53.80" fill="#fff"/>
<rect x="982.70" y="1279.50" width="88.40" height="53.80" fill="#fff"/>
<rect x="1073.50" y="1279.50" width="88.30" height="53.80" fill="#fff"/>
<rect x="1164.20" y="1279.50" width="87.80" height="53.80" fill="#fff"/>
<rect x="1256.00" y="1279.50" width="97.40" height="53.80" fill="#fff"/>
<rect x="164.70" y="1337.10" width="107.50" height="53.50" fill="#fff"/>
<rect x="276.00" y="1337.10" width="56.10" height="53.50" fill="#fff"/>
<rect x="335.90" y="1337.10" width="98.10" height="53.50" fill="#fff"/>
<rect x="436.40" y="1337.10" width="88.60" height="53.50" fill="#fff"/>
<rect x="527.40" y="1337.10" width="88.60" height="53.50" fill="#fff"/>
<rect x="618.40" y="1337.10" width="89.10" height="53.50" fill="#fff"/>
<rect x="709.90" y="1337.10" width="88.40" height="53.50" fill="#fff"/>
<rect x="800.70" y="1337.10" width="88.60" height="53.50" fill="#fff"/>
<rect x="891.70" y="1337.10" width="88.60" height="53.50" fill="#fff"/>
<rect x="982.70" y="1337.10" width="88.40" height="53.50" fill="#fff"/>
<rect x="1073.50" y="1337.10" width="88.30" height="53.50" fill="#fff"/>
<rect x="1164.20" y="1337.10" width="87.80" height="53.50" fill="#fff"/>
<rect x="1256.00" y="1337.10" width="97.40" height="53.50" fill="#fff"/>
<rect x="164.70" y="1394.40" width="107.50" height="53.00" fill="#fff"/>
<rect x="276.00" y="1394.40" width="56.10" height="53.00" fill="#fff"/>
<rect x="335.90" y="1394.40" width="98.10" height="53.00" fill="#fff"/>
<rect x="436.40" y="1394.40" width="88.60" height="53.00" fill="#fff"/>
<rect x="527.40" y="1394.40" width="88.60" height="53.00" fill="#fff"/>
<rect x="618.40" y="1394.40" width="89.10" height="53.00" fill="#fff"/>
<rect x="709.90" y="1394.40" width="88.40" height="53.00" fill="#fff"/>
<rect x="800.70" y="1394.40" width="88.60" height="53.00" fill="#fff"/>
<rect x="891.70" y="1394.40" width="88.60" height="53.00" fill="#fff"/>
<rect x="982.70" y="1394.40" width="88.40" height="53.00" fill="#fff"/>
<rect x="1073.50" y="1394.40" width="88.30" height="53.00" fill="#fff"/>
<rect x="1164.20" y="1394.40" width="87.80" height="53.00" fill="#fff"/>
<rect x="1256.00" y="1394.40" width="97.40" height="53.00" fill="#fff"/>
<rect x="276.00" y="1190.35" width="56.10" height="2.10" fill="#000"/>
<rect x="335.90" y="1190.35" width="98.10" height="2.10" fill="#000"/>
<rect x="618.40" y="1190.35" width="89.10" height="2.10" fill="#000"/>
<rect x="800.70" y="1190.35" width="88.60" height="2.10" fill="#000"/>
<rect x="891.70" y="1190.35" width="88.60" height="2.10" fill="#000"/>
<rect x="982.70" y="1190.35" width="88.40" height="2.10" fill="#000"/>
<rect x="1073.50" y="1190.35" width="88.30" height="2.10" fill="#000"/>
<rect x="276.00" y="1247.75" width="56.10" height="2.10" fill="#000"/>
<rect x="335.90" y="1247.75" width="98.10" height="2.10" fill="#000"/>
<rect x="618.40" y="1247.75" width="89.10" height="2.10" fill="#000"/>
<rect x="800.70" y="1247.75" width="88.60" height="2.10" fill="#000"/>
<rect x="891.70" y="1247.75" width="88.60" height="2.10" fill="#000"/>
<rect x="982.70" y="1247.75" width="88.40" height="2.10" fill="#000"/>
<rect x="1073.50" y="1247.75" width="88.30" height="2.10" fill="#000"/>
<rect x="276.00" y="1305.35" width="56.10" height="2.10" fill="#000"/>
<rect x="335.90" y="1305.35" width="98.10" height="2.10" fill="#000"/>
<rect x="618.40" y="1305.35" width="89.10" height="2.10" fill="#000"/>
<rect x="800.70" y="1305.35" width="88.60" height="2.10" fill="#000"/>
<rect x="891.70" y="1305.35" width="88.60" height="2.10" fill="#000"/>
<rect x="982.70" y="1305.35" width="88.40" height="2.10" fill="#000"/>
<rect x="1073.50" y="1305.35" width="88.30" height="2.10" fill="#000"/>
<rect x="276.00" y="1362.80" width="56.10" height="2.10" fill="#000"/>
<rect x="335.90" y="1362.80" width="98.10" height="2.10" fill="#000"/>
<rect x="618.40" y="1362.80" width="89.10" height="2.10" fill="#000"/>
<rect x="800.70" y="1362.80" width="88.60" height="2.10" fill="#000"/>
<rect x="891.70" y="1362.80" width="88.60" height="2.10" fill="#000"/>
<rect x="982.70" y="1362.80" width="88.40" height="2.10" fill="#000"/>
<rect x="1073.50" y="1362.80" width="88.30" height="2.10" fill="#000"/>
<rect x="276.00" y="1419.90" width="56.10" height="2.10" fill="#000"/>
<rect x="335.90" y="1419.90" width="98.10" height="2.10" fill="#000"/>
<rect x="618.40" y="1419.90" width="89.10" height="2.10" fill="#000"/>
<rect x="800.70" y="1419.90" width="88.60" height="2.10" fill="#000"/>
<rect x="891.70" y="1419.90" width="88.60" height="2.10" fill="#000"/>
<rect x="982.70" y="1419.90" width="88.40" height="2.10" fill="#000"/>
<rect x="1073.50" y="1419.90" width="88.30" height="2.10" fill="#000"/>
<text x="218.80" y="1095.00" font-family="Liberation Sans" font-size="21.5" font-weight="bold" fill="#1c5cb8" text-anchor="middle">BOLT</text>
<text x="218.80" y="1127.60" font-family="Liberation Sans" font-size="21.5" font-weight="bold" fill="#1c5cb8" text-anchor="middle">SIZE</text>
<text x="218.60" y="1153.20" font-family="Liberation Sans" font-size="14.3" font-weight="normal" fill="#1a4a9a" text-anchor="middle">UNC Class 2A</text>
<text x="384.60" y="1101.00" font-family="Liberation Sans" font-size="31.5" font-weight="bold" fill="#17607F" text-anchor="middle">A</text>
<text x="384.60" y="1158.20" font-family="Liberation Sans" font-size="12" font-weight="bold" fill="#1e2a22" text-anchor="middle">DIAM.</text>
<text x="480.70" y="1106.50" font-family="Liberation Sans" font-size="31.5" font-weight="bold" fill="#17607F" text-anchor="middle">B</text>
<text x="480.70" y="1152.80" font-family="Liberation Sans" font-size="12" font-weight="bold" fill="#1e2a22" text-anchor="middle">LENGTH</text>
<text x="571.70" y="1106.50" font-family="Liberation Sans" font-size="31.5" font-weight="bold" fill="#17607F" text-anchor="middle">C</text>
<text x="571.70" y="1133.00" font-family="Liberation Sans" font-size="12" font-weight="bold" fill="#1e2a22" text-anchor="middle">COLLAR</text>
<text x="571.70" y="1152.80" font-family="Liberation Sans" font-size="12" font-weight="bold" fill="#1e2a22" text-anchor="middle">HEIGHT</text>
<text x="662.95" y="1106.50" font-family="Liberation Sans" font-size="31.5" font-weight="bold" fill="#17607F" text-anchor="middle">D</text>
<text x="662.95" y="1133.00" font-family="Liberation Sans" font-size="12" font-weight="bold" fill="#1e2a22" text-anchor="middle">THREAD</text>
<text x="662.95" y="1152.80" font-family="Liberation Sans" font-size="12" font-weight="bold" fill="#1e2a22" text-anchor="middle">DIAM.</text>
<text x="754.10" y="1106.50" font-family="Liberation Sans" font-size="31.5" font-weight="bold" fill="#17607F" text-anchor="middle">E</text>
<text x="754.10" y="1133.00" font-family="Liberation Sans" font-size="12" font-weight="bold" fill="#1e2a22" text-anchor="middle">SHANK</text>
<text x="754.10" y="1152.80" font-family="Liberation Sans" font-size="12" font-weight="bold" fill="#1e2a22" text-anchor="middle">DIAM.</text>
<text x="845.00" y="1106.50" font-family="Liberation Sans" font-size="31.5" font-weight="bold" fill="#17607F" text-anchor="middle">E1</text>
<text x="845.00" y="1133.00" font-family="Liberation Sans" font-size="12" font-weight="bold" fill="#1e2a22" text-anchor="middle">BODY</text>
<text x="845.00" y="1152.80" font-family="Liberation Sans" font-size="12" font-weight="bold" fill="#1e2a22" text-anchor="middle">DIAM.</text>
<text x="936.00" y="1106.50" font-family="Liberation Sans" font-size="31.5" font-weight="bold" fill="#17607F" text-anchor="middle">F</text>
<text x="936.00" y="1133.00" font-family="Liberation Sans" font-size="12" font-weight="bold" fill="#1e2a22" text-anchor="middle">COLLAR</text>
<text x="936.00" y="1152.80" font-family="Liberation Sans" font-size="12" font-weight="bold" fill="#1e2a22" text-anchor="middle">DIAM.</text>
<text x="1026.90" y="1106.50" font-family="Liberation Sans" font-size="31.5" font-weight="bold" fill="#17607F" text-anchor="middle">P</text>
<text x="1026.90" y="1133.00" font-family="Liberation Sans" font-size="12" font-weight="bold" fill="#1e2a22" text-anchor="middle">POINT</text>
<text x="1026.90" y="1152.80" font-family="Liberation Sans" font-size="12" font-weight="bold" fill="#1e2a22" text-anchor="middle">DIAM.</text>
<text x="1117.65" y="1106.50" font-family="Liberation Sans" font-size="31.5" font-weight="bold" fill="#17607F" text-anchor="middle">S2</text>
<text x="1117.65" y="1133.00" font-family="Liberation Sans" font-size="12" font-weight="bold" fill="#1e2a22" text-anchor="middle">SHANK</text>
<text x="1117.65" y="1152.80" font-family="Liberation Sans" font-size="12" font-weight="bold" fill="#1e2a22" text-anchor="middle">LENGTH</text>
<text x="1208.50" y="1106.50" font-family="Liberation Sans" font-size="31.5" font-weight="bold" fill="#17607F" text-anchor="middle">T</text>
<text x="1208.50" y="1133.00" font-family="Liberation Sans" font-size="12" font-weight="bold" fill="#1e2a22" text-anchor="middle">POINT</text>
<text x="1208.50" y="1152.80" font-family="Liberation Sans" font-size="12" font-weight="bold" fill="#1e2a22" text-anchor="middle">LENGTH</text>
<text x="1304.65" y="1130.20" font-family="Liberation Sans" font-size="12.6" font-weight="bold" fill="#1e2a22" text-anchor="middle" letter-spacing="0.3">Minimum</text>
<text x="1304.65" y="1152.20" font-family="Liberation Sans" font-size="12.6" font-weight="bold" fill="#1e2a22" text-anchor="middle" letter-spacing="0.3">Embedment</text>
<text x="218.45" y="1198.33" font-family="Liberation Sans" font-size="19" font-weight="bold" fill="#111" text-anchor="middle" letter-spacing="1.3">1/4-20</text>
<text x="304.05" y="1181.98" font-family="Liberation Sans" font-size="13.4" font-weight="bold" fill="#111" text-anchor="middle">Min.</text>
<text x="304.05" y="1210.58" font-family="Liberation Sans" font-size="13.4" font-weight="bold" fill="#111" text-anchor="middle">Max.</text>
<text x="384.60" y="1184.00" font-family="Liberation Sans" font-size="17" font-weight="normal" fill="#111" text-anchor="middle" stroke="#111" stroke-width="0.35">0.240</text>
<text x="384.60" y="1212.60" font-family="Liberation Sans" font-size="17" font-weight="normal" fill="#111" text-anchor="middle" stroke="#111" stroke-width="0.35">0.256</text>
<text x="662.95" y="1184.00" font-family="Liberation Sans" font-size="17" font-weight="normal" fill="#111" text-anchor="middle" stroke="#111" stroke-width="0.35">0.241</text>
<text x="662.95" y="1212.60" font-family="Liberation Sans" font-size="17" font-weight="normal" fill="#111" text-anchor="middle" stroke="#111" stroke-width="0.35">0.249</text>
<text x="845.00" y="1184.00" font-family="Liberation Sans" font-size="17" font-weight="normal" fill="#111" text-anchor="middle" stroke="#111" stroke-width="0.35">0.173</text>
<text x="845.00" y="1212.60" font-family="Liberation Sans" font-size="17" font-weight="normal" fill="#111" text-anchor="middle" stroke="#111" stroke-width="0.35">0.189</text>
<text x="936.00" y="1184.00" font-family="Liberation Sans" font-size="17" font-weight="normal" fill="#111" text-anchor="middle" stroke="#111" stroke-width="0.35">0.224</text>
<text x="936.00" y="1212.60" font-family="Liberation Sans" font-size="17" font-weight="normal" fill="#111" text-anchor="middle" stroke="#111" stroke-width="0.35">0.248</text>
<text x="1026.90" y="1184.00" font-family="Liberation Sans" font-size="17" font-weight="normal" fill="#111" text-anchor="middle" stroke="#111" stroke-width="0.35">0.169</text>
<text x="1026.90" y="1212.60" font-family="Liberation Sans" font-size="17" font-weight="normal" fill="#111" text-anchor="middle" stroke="#111" stroke-width="0.35">0.189</text>
<text x="1117.65" y="1184.00" font-family="Liberation Sans" font-size="17" font-weight="normal" fill="#111" text-anchor="middle" stroke="#111" stroke-width="0.35">0.433</text>
<text x="1117.65" y="1212.60" font-family="Liberation Sans" font-size="17" font-weight="normal" fill="#111" text-anchor="middle" stroke="#111" stroke-width="0.35">0.472</text>
<text x="480.70" y="1184.76" font-family="Liberation Sans" font-size="15.8" font-weight="normal" fill="#111" text-anchor="middle" stroke="#111" stroke-width="0.35">Ref.</text>
<text x="480.70" y="1210.20" font-family="Liberation Sans" font-size="17" font-weight="normal" fill="#111" text-anchor="middle" stroke="#111" stroke-width="0.35">0.079</text>
<text x="571.70" y="1184.76" font-family="Liberation Sans" font-size="15.8" font-weight="normal" fill="#111" text-anchor="middle" stroke="#111" stroke-width="0.35">Ref.</text>
<text x="571.70" y="1210.20" font-family="Liberation Sans" font-size="17" font-weight="normal" fill="#111" text-anchor="middle" stroke="#111" stroke-width="0.35">0.079</text>
<text x="754.10" y="1184.76" font-family="Liberation Sans" font-size="15.8" font-weight="normal" fill="#111" text-anchor="middle" stroke="#111" stroke-width="0.35">Ref.</text>
<text x="754.10" y="1210.20" font-family="Liberation Sans" font-size="17" font-weight="normal" fill="#111" text-anchor="middle" stroke="#111" stroke-width="0.35">0.215</text>
<text x="1208.50" y="1184.76" font-family="Liberation Sans" font-size="15.8" font-weight="normal" fill="#111" text-anchor="middle" stroke="#111" stroke-width="0.35">Ref.</text>
<text x="1208.50" y="1210.20" font-family="Liberation Sans" font-size="17" font-weight="normal" fill="#111" text-anchor="middle" stroke="#111" stroke-width="0.35">0.079</text>
<text x="1304.65" y="1197.41" font-family="Liberation Sans" font-size="16.5" font-weight="bold" fill="#111" text-anchor="middle">1-1/8"</text>
<text x="218.45" y="1255.73" font-family="Liberation Sans" font-size="19" font-weight="bold" fill="#111" text-anchor="middle" letter-spacing="1.3">3/8-16</text>
<text x="304.05" y="1239.28" font-family="Liberation Sans" font-size="13.4" font-weight="bold" fill="#111" text-anchor="middle">Min.</text>
<text x="304.05" y="1268.08" font-family="Liberation Sans" font-size="13.4" font-weight="bold" fill="#111" text-anchor="middle">Max.</text>
<text x="384.60" y="1241.30" font-family="Liberation Sans" font-size="17" font-weight="normal" fill="#111" text-anchor="middle" stroke="#111" stroke-width="0.35">0.362</text>
<text x="384.60" y="1270.10" font-family="Liberation Sans" font-size="17" font-weight="normal" fill="#111" text-anchor="middle" stroke="#111" stroke-width="0.35">0.378</text>
<text x="662.95" y="1241.30" font-family="Liberation Sans" font-size="17" font-weight="normal" fill="#111" text-anchor="middle" stroke="#111" stroke-width="0.35">0.364</text>
<text x="662.95" y="1270.10" font-family="Liberation Sans" font-size="17" font-weight="normal" fill="#111" text-anchor="middle" stroke="#111" stroke-width="0.35">0.374</text>
<text x="845.00" y="1241.30" font-family="Liberation Sans" font-size="17" font-weight="normal" fill="#111" text-anchor="middle" stroke="#111" stroke-width="0.35">0.268</text>
<text x="845.00" y="1270.10" font-family="Liberation Sans" font-size="17" font-weight="normal" fill="#111" text-anchor="middle" stroke="#111" stroke-width="0.35">0.283</text>
<text x="936.00" y="1241.30" font-family="Liberation Sans" font-size="17" font-weight="normal" fill="#111" text-anchor="middle" stroke="#111" stroke-width="0.35">0.358</text>
<text x="936.00" y="1270.10" font-family="Liberation Sans" font-size="17" font-weight="normal" fill="#111" text-anchor="middle" stroke="#111" stroke-width="0.35">0.374</text>
<text x="1026.90" y="1241.30" font-family="Liberation Sans" font-size="17" font-weight="normal" fill="#111" text-anchor="middle" stroke="#111" stroke-width="0.35">0.268</text>
<text x="1026.90" y="1270.10" font-family="Liberation Sans" font-size="17" font-weight="normal" fill="#111" text-anchor="middle" stroke="#111" stroke-width="0.35">0.287</text>
<text x="1117.65" y="1241.30" font-family="Liberation Sans" font-size="17" font-weight="normal" fill="#111" text-anchor="middle" stroke="#111" stroke-width="0.35">0.650</text>
<text x="1117.65" y="1270.10" font-family="Liberation Sans" font-size="17" font-weight="normal" fill="#111" text-anchor="middle" stroke="#111" stroke-width="0.35">0.689</text>
<text x="480.70" y="1241.96" font-family="Liberation Sans" font-size="15.8" font-weight="normal" fill="#111" text-anchor="middle" stroke="#111" stroke-width="0.35">Ref.</text>
<text x="480.70" y="1267.40" font-family="Liberation Sans" font-size="17" font-weight="normal" fill="#111" text-anchor="middle" stroke="#111" stroke-width="0.35">0.138</text>
<text x="571.70" y="1241.96" font-family="Liberation Sans" font-size="15.8" font-weight="normal" fill="#111" text-anchor="middle" stroke="#111" stroke-width="0.35">Ref.</text>
<text x="571.70" y="1267.40" font-family="Liberation Sans" font-size="17" font-weight="normal" fill="#111" text-anchor="middle" stroke="#111" stroke-width="0.35">0.118</text>
<text x="754.10" y="1241.96" font-family="Liberation Sans" font-size="15.8" font-weight="normal" fill="#111" text-anchor="middle" stroke="#111" stroke-width="0.35">Ref.</text>
<text x="754.10" y="1267.40" font-family="Liberation Sans" font-size="17" font-weight="normal" fill="#111" text-anchor="middle" stroke="#111" stroke-width="0.35">0.330</text>
<text x="1208.50" y="1241.96" font-family="Liberation Sans" font-size="15.8" font-weight="normal" fill="#111" text-anchor="middle" stroke="#111" stroke-width="0.35">Ref.</text>
<text x="1208.50" y="1267.40" font-family="Liberation Sans" font-size="17" font-weight="normal" fill="#111" text-anchor="middle" stroke="#111" stroke-width="0.35">0.138</text>
<text x="1304.65" y="1254.81" font-family="Liberation Sans" font-size="16.5" font-weight="bold" fill="#111" text-anchor="middle">1-5/8"</text>
<text x="218.45" y="1313.33" font-family="Liberation Sans" font-size="19" font-weight="bold" fill="#111" text-anchor="middle" letter-spacing="1.3">1/2-13</text>
<text x="304.05" y="1296.88" font-family="Liberation Sans" font-size="13.4" font-weight="bold" fill="#111" text-anchor="middle">Min.</text>
<text x="304.05" y="1325.68" font-family="Liberation Sans" font-size="13.4" font-weight="bold" fill="#111" text-anchor="middle">Max.</text>
<text x="384.60" y="1298.90" font-family="Liberation Sans" font-size="17" font-weight="normal" fill="#111" text-anchor="middle" stroke="#111" stroke-width="0.35">0.488</text>
<text x="384.60" y="1327.70" font-family="Liberation Sans" font-size="17" font-weight="normal" fill="#111" text-anchor="middle" stroke="#111" stroke-width="0.35">0.504</text>
<text x="662.95" y="1298.90" font-family="Liberation Sans" font-size="17" font-weight="normal" fill="#111" text-anchor="middle" stroke="#111" stroke-width="0.35">0.488</text>
<text x="662.95" y="1327.70" font-family="Liberation Sans" font-size="17" font-weight="normal" fill="#111" text-anchor="middle" stroke="#111" stroke-width="0.35">0.499</text>
<text x="845.00" y="1298.90" font-family="Liberation Sans" font-size="17" font-weight="normal" fill="#111" text-anchor="middle" stroke="#111" stroke-width="0.35">0.386</text>
<text x="845.00" y="1327.70" font-family="Liberation Sans" font-size="17" font-weight="normal" fill="#111" text-anchor="middle" stroke="#111" stroke-width="0.35">0.402</text>
<text x="936.00" y="1298.90" font-family="Liberation Sans" font-size="17" font-weight="normal" fill="#111" text-anchor="middle" stroke="#111" stroke-width="0.35">0.480</text>
<text x="936.00" y="1327.70" font-family="Liberation Sans" font-size="17" font-weight="normal" fill="#111" text-anchor="middle" stroke="#111" stroke-width="0.35">0.496</text>
<text x="1026.90" y="1298.90" font-family="Liberation Sans" font-size="17" font-weight="normal" fill="#111" text-anchor="middle" stroke="#111" stroke-width="0.35">0.350</text>
<text x="1026.90" y="1327.70" font-family="Liberation Sans" font-size="17" font-weight="normal" fill="#111" text-anchor="middle" stroke="#111" stroke-width="0.35">0.370</text>
<text x="1117.65" y="1298.90" font-family="Liberation Sans" font-size="17" font-weight="normal" fill="#111" text-anchor="middle" stroke="#111" stroke-width="0.35">0.728</text>
<text x="1117.65" y="1327.70" font-family="Liberation Sans" font-size="17" font-weight="normal" fill="#111" text-anchor="middle" stroke="#111" stroke-width="0.35">0.768</text>
<text x="480.70" y="1299.56" font-family="Liberation Sans" font-size="15.8" font-weight="normal" fill="#111" text-anchor="middle" stroke="#111" stroke-width="0.35">Ref.</text>
<text x="480.70" y="1325.00" font-family="Liberation Sans" font-size="17" font-weight="normal" fill="#111" text-anchor="middle" stroke="#111" stroke-width="0.35">0.157</text>
<text x="571.70" y="1299.56" font-family="Liberation Sans" font-size="15.8" font-weight="normal" fill="#111" text-anchor="middle" stroke="#111" stroke-width="0.35">Ref.</text>
<text x="571.70" y="1325.00" font-family="Liberation Sans" font-size="17" font-weight="normal" fill="#111" text-anchor="middle" stroke="#111" stroke-width="0.35">0.118</text>
<text x="754.10" y="1299.56" font-family="Liberation Sans" font-size="15.8" font-weight="normal" fill="#111" text-anchor="middle" stroke="#111" stroke-width="0.35">Ref.</text>
<text x="754.10" y="1325.00" font-family="Liberation Sans" font-size="17" font-weight="normal" fill="#111" text-anchor="middle" stroke="#111" stroke-width="0.35">0.445</text>
<text x="1208.50" y="1299.56" font-family="Liberation Sans" font-size="15.8" font-weight="normal" fill="#111" text-anchor="middle" stroke="#111" stroke-width="0.35">Ref.</text>
<text x="1208.50" y="1325.00" font-family="Liberation Sans" font-size="17" font-weight="normal" fill="#111" text-anchor="middle" stroke="#111" stroke-width="0.35">0.138</text>
<text x="1304.65" y="1312.41" font-family="Liberation Sans" font-size="16.5" font-weight="bold" fill="#111" text-anchor="middle">2-1/4"</text>
<text x="218.45" y="1370.78" font-family="Liberation Sans" font-size="19" font-weight="bold" fill="#111" text-anchor="middle" letter-spacing="1.3">5/8-11</text>
<text x="304.05" y="1354.41" font-family="Liberation Sans" font-size="13.4" font-weight="bold" fill="#111" text-anchor="middle">Min.</text>
<text x="304.05" y="1383.06" font-family="Liberation Sans" font-size="13.4" font-weight="bold" fill="#111" text-anchor="middle">Max.</text>
<text x="384.60" y="1356.42" font-family="Liberation Sans" font-size="17" font-weight="normal" fill="#111" text-anchor="middle" stroke="#111" stroke-width="0.35">0.614</text>
<text x="384.60" y="1385.07" font-family="Liberation Sans" font-size="17" font-weight="normal" fill="#111" text-anchor="middle" stroke="#111" stroke-width="0.35">0.630</text>
<text x="662.95" y="1356.42" font-family="Liberation Sans" font-size="17" font-weight="normal" fill="#111" text-anchor="middle" stroke="#111" stroke-width="0.35">0.611</text>
<text x="662.95" y="1385.07" font-family="Liberation Sans" font-size="17" font-weight="normal" fill="#111" text-anchor="middle" stroke="#111" stroke-width="0.35">0.623</text>
<text x="845.00" y="1356.42" font-family="Liberation Sans" font-size="17" font-weight="normal" fill="#111" text-anchor="middle" stroke="#111" stroke-width="0.35">0.496</text>
<text x="845.00" y="1385.07" font-family="Liberation Sans" font-size="17" font-weight="normal" fill="#111" text-anchor="middle" stroke="#111" stroke-width="0.35">0.512</text>
<text x="936.00" y="1356.42" font-family="Liberation Sans" font-size="17" font-weight="normal" fill="#111" text-anchor="middle" stroke="#111" stroke-width="0.35">0.606</text>
<text x="936.00" y="1385.07" font-family="Liberation Sans" font-size="17" font-weight="normal" fill="#111" text-anchor="middle" stroke="#111" stroke-width="0.35">0.630</text>
<text x="1026.90" y="1356.42" font-family="Liberation Sans" font-size="17" font-weight="normal" fill="#111" text-anchor="middle" stroke="#111" stroke-width="0.35">0.480</text>
<text x="1026.90" y="1385.07" font-family="Liberation Sans" font-size="17" font-weight="normal" fill="#111" text-anchor="middle" stroke="#111" stroke-width="0.35">0.504</text>
<text x="1117.65" y="1356.42" font-family="Liberation Sans" font-size="17" font-weight="normal" fill="#111" text-anchor="middle" stroke="#111" stroke-width="0.35">0.866</text>
<text x="1117.65" y="1385.07" font-family="Liberation Sans" font-size="17" font-weight="normal" fill="#111" text-anchor="middle" stroke="#111" stroke-width="0.35">0.906</text>
<text x="480.70" y="1357.16" font-family="Liberation Sans" font-size="15.8" font-weight="normal" fill="#111" text-anchor="middle" stroke="#111" stroke-width="0.35">Ref.</text>
<text x="480.70" y="1382.60" font-family="Liberation Sans" font-size="17" font-weight="normal" fill="#111" text-anchor="middle" stroke="#111" stroke-width="0.35">0.217</text>
<text x="571.70" y="1357.16" font-family="Liberation Sans" font-size="15.8" font-weight="normal" fill="#111" text-anchor="middle" stroke="#111" stroke-width="0.35">Ref.</text>
<text x="571.70" y="1382.60" font-family="Liberation Sans" font-size="17" font-weight="normal" fill="#111" text-anchor="middle" stroke="#111" stroke-width="0.35">0.157</text>
<text x="754.10" y="1357.16" font-family="Liberation Sans" font-size="15.8" font-weight="normal" fill="#111" text-anchor="middle" stroke="#111" stroke-width="0.35">Ref.</text>
<text x="754.10" y="1382.60" font-family="Liberation Sans" font-size="17" font-weight="normal" fill="#111" text-anchor="middle" stroke="#111" stroke-width="0.35">0.560</text>
<text x="1208.50" y="1357.16" font-family="Liberation Sans" font-size="15.8" font-weight="normal" fill="#111" text-anchor="middle" stroke="#111" stroke-width="0.35">Ref.</text>
<text x="1208.50" y="1382.60" font-family="Liberation Sans" font-size="17" font-weight="normal" fill="#111" text-anchor="middle" stroke="#111" stroke-width="0.35">0.157</text>
<text x="1304.65" y="1369.86" font-family="Liberation Sans" font-size="16.5" font-weight="bold" fill="#111" text-anchor="middle">2-3/4"</text>
<text x="218.45" y="1427.88" font-family="Liberation Sans" font-size="19" font-weight="bold" fill="#111" text-anchor="middle" letter-spacing="1.3">3/4-10</text>
<text x="304.05" y="1411.61" font-family="Liberation Sans" font-size="13.4" font-weight="bold" fill="#111" text-anchor="middle">Min.</text>
<text x="304.05" y="1440.06" font-family="Liberation Sans" font-size="13.4" font-weight="bold" fill="#111" text-anchor="middle">Max.</text>
<text x="384.60" y="1413.62" font-family="Liberation Sans" font-size="17" font-weight="normal" fill="#111" text-anchor="middle" stroke="#111" stroke-width="0.35">0.740</text>
<text x="384.60" y="1442.07" font-family="Liberation Sans" font-size="17" font-weight="normal" fill="#111" text-anchor="middle" stroke="#111" stroke-width="0.35">0.756</text>
<text x="662.95" y="1413.62" font-family="Liberation Sans" font-size="17" font-weight="normal" fill="#111" text-anchor="middle" stroke="#111" stroke-width="0.35">0.735</text>
<text x="662.95" y="1442.07" font-family="Liberation Sans" font-size="17" font-weight="normal" fill="#111" text-anchor="middle" stroke="#111" stroke-width="0.35">0.748</text>
<text x="845.00" y="1413.62" font-family="Liberation Sans" font-size="17" font-weight="normal" fill="#111" text-anchor="middle" stroke="#111" stroke-width="0.35">0.591</text>
<text x="845.00" y="1442.07" font-family="Liberation Sans" font-size="17" font-weight="normal" fill="#111" text-anchor="middle" stroke="#111" stroke-width="0.35">0.606</text>
<text x="936.00" y="1413.62" font-family="Liberation Sans" font-size="17" font-weight="normal" fill="#111" text-anchor="middle" stroke="#111" stroke-width="0.35">0.725</text>
<text x="936.00" y="1442.07" font-family="Liberation Sans" font-size="17" font-weight="normal" fill="#111" text-anchor="middle" stroke="#111" stroke-width="0.35">0.745</text>
<text x="1026.90" y="1413.62" font-family="Liberation Sans" font-size="17" font-weight="normal" fill="#111" text-anchor="middle" stroke="#111" stroke-width="0.35">0.583</text>
<text x="1026.90" y="1442.07" font-family="Liberation Sans" font-size="17" font-weight="normal" fill="#111" text-anchor="middle" stroke="#111" stroke-width="0.35">0.602</text>
<text x="1117.65" y="1413.62" font-family="Liberation Sans" font-size="17" font-weight="normal" fill="#111" text-anchor="middle" stroke="#111" stroke-width="0.35">1.004</text>
<text x="1117.65" y="1442.07" font-family="Liberation Sans" font-size="17" font-weight="normal" fill="#111" text-anchor="middle" stroke="#111" stroke-width="0.35">1.043</text>
<text x="480.70" y="1414.46" font-family="Liberation Sans" font-size="15.8" font-weight="normal" fill="#111" text-anchor="middle" stroke="#111" stroke-width="0.35">Ref.</text>
<text x="480.70" y="1439.90" font-family="Liberation Sans" font-size="17" font-weight="normal" fill="#111" text-anchor="middle" stroke="#111" stroke-width="0.35">0.236</text>
<text x="571.70" y="1414.46" font-family="Liberation Sans" font-size="15.8" font-weight="normal" fill="#111" text-anchor="middle" stroke="#111" stroke-width="0.35">Ref.</text>
<text x="571.70" y="1439.90" font-family="Liberation Sans" font-size="17" font-weight="normal" fill="#111" text-anchor="middle" stroke="#111" stroke-width="0.35">0.079</text>
<text x="754.10" y="1414.46" font-family="Liberation Sans" font-size="15.8" font-weight="normal" fill="#111" text-anchor="middle" stroke="#111" stroke-width="0.35">Ref.</text>
<text x="754.10" y="1439.90" font-family="Liberation Sans" font-size="17" font-weight="normal" fill="#111" text-anchor="middle" stroke="#111" stroke-width="0.35">0.675</text>
<text x="1208.50" y="1414.46" font-family="Liberation Sans" font-size="15.8" font-weight="normal" fill="#111" text-anchor="middle" stroke="#111" stroke-width="0.35">Ref.</text>
<text x="1208.50" y="1439.90" font-family="Liberation Sans" font-size="17" font-weight="normal" fill="#111" text-anchor="middle" stroke="#111" stroke-width="0.35">0.157</text>
<text x="1304.65" y="1426.96" font-family="Liberation Sans" font-size="16.5" font-weight="bold" fill="#111" text-anchor="middle">3-5/16"</text>
</svg>
</body></html>
